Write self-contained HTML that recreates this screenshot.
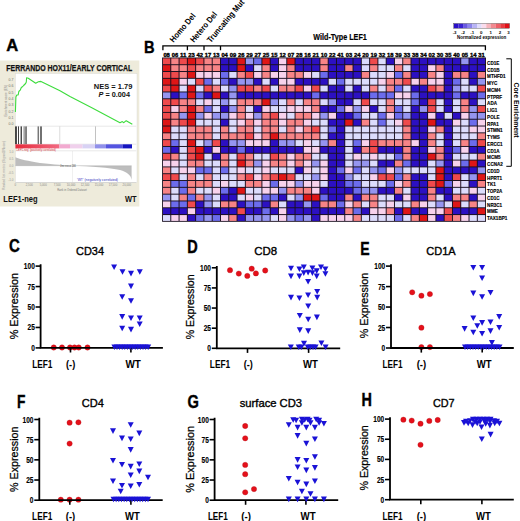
<!DOCTYPE html>
<html><head><meta charset="utf-8"><title>Figure</title>
<style>
html,body{margin:0;padding:0;background:#fff;width:520px;height:521px;overflow:hidden}
svg{display:block}
text{font-family:"Liberation Sans",sans-serif}
</style></head><body>
<svg width="520" height="521" viewBox="0 0 520 521">
<rect width="520" height="521" fill="#fff"/>
<rect x="162.10" y="57.50" width="323.90" height="164.30" fill="#1a1020"/>
<rect x="162.98" y="58.38" width="7.32" height="5.85" fill="#ef4a4c"/>
<rect x="171.26" y="58.38" width="7.32" height="5.85" fill="#f78486"/>
<rect x="179.55" y="58.38" width="7.32" height="5.85" fill="#ef4a4c"/>
<rect x="187.83" y="58.38" width="7.32" height="5.85" fill="#de1616"/>
<rect x="196.12" y="58.38" width="7.32" height="5.85" fill="#ef4a4c"/>
<rect x="204.40" y="58.38" width="7.32" height="5.85" fill="#f78486"/>
<rect x="212.69" y="58.38" width="7.32" height="5.85" fill="#f78486"/>
<rect x="220.97" y="58.38" width="7.32" height="5.85" fill="#2c10c2"/>
<rect x="229.26" y="58.38" width="7.32" height="5.85" fill="#2c10c2"/>
<rect x="237.54" y="58.38" width="7.32" height="5.85" fill="#de1616"/>
<rect x="245.83" y="58.38" width="7.32" height="5.85" fill="#9595f0"/>
<rect x="254.11" y="58.38" width="7.32" height="5.85" fill="#6c6cec"/>
<rect x="262.40" y="58.38" width="7.32" height="5.85" fill="#de1616"/>
<rect x="270.68" y="58.38" width="7.32" height="5.85" fill="#2c10c2"/>
<rect x="278.96" y="58.38" width="7.32" height="5.85" fill="#f7d2ec"/>
<rect x="287.25" y="58.38" width="7.32" height="5.85" fill="#de1616"/>
<rect x="295.53" y="58.38" width="7.32" height="5.85" fill="#2c10c2"/>
<rect x="303.82" y="58.38" width="7.32" height="5.85" fill="#2c10c2"/>
<rect x="312.10" y="58.38" width="7.32" height="5.85" fill="#2c10c2"/>
<rect x="320.39" y="58.38" width="7.32" height="5.85" fill="#f78486"/>
<rect x="328.67" y="58.38" width="7.32" height="5.85" fill="#2c10c2"/>
<rect x="336.96" y="58.38" width="7.32" height="5.85" fill="#2c10c2"/>
<rect x="345.24" y="58.38" width="7.32" height="5.85" fill="#2c10c2"/>
<rect x="353.53" y="58.38" width="7.32" height="5.85" fill="#2c10c2"/>
<rect x="361.81" y="58.38" width="7.32" height="5.85" fill="#dcdcfc"/>
<rect x="370.10" y="58.38" width="7.32" height="5.85" fill="#ef4a4c"/>
<rect x="378.38" y="58.38" width="7.32" height="5.85" fill="#dcdcfc"/>
<rect x="386.66" y="58.38" width="7.32" height="5.85" fill="#2c10c2"/>
<rect x="394.95" y="58.38" width="7.32" height="5.85" fill="#f7d2ec"/>
<rect x="403.23" y="58.38" width="7.32" height="5.85" fill="#f78486"/>
<rect x="411.52" y="58.38" width="7.32" height="5.85" fill="#2c10c2"/>
<rect x="419.80" y="58.38" width="7.32" height="5.85" fill="#2c10c2"/>
<rect x="428.09" y="58.38" width="7.32" height="5.85" fill="#2c10c2"/>
<rect x="436.37" y="58.38" width="7.32" height="5.85" fill="#2c10c2"/>
<rect x="444.66" y="58.38" width="7.32" height="5.85" fill="#2c10c2"/>
<rect x="452.94" y="58.38" width="7.32" height="5.85" fill="#2c10c2"/>
<rect x="461.23" y="58.38" width="7.32" height="5.85" fill="#9595f0"/>
<rect x="469.51" y="58.38" width="7.32" height="5.85" fill="#2c10c2"/>
<rect x="477.80" y="58.38" width="7.32" height="5.85" fill="#2c10c2"/>
<rect x="162.98" y="65.19" width="7.32" height="5.85" fill="#de1616"/>
<rect x="171.26" y="65.19" width="7.32" height="5.85" fill="#f78486"/>
<rect x="179.55" y="65.19" width="7.32" height="5.85" fill="#f78486"/>
<rect x="187.83" y="65.19" width="7.32" height="5.85" fill="#ef4a4c"/>
<rect x="196.12" y="65.19" width="7.32" height="5.85" fill="#f78486"/>
<rect x="204.40" y="65.19" width="7.32" height="5.85" fill="#f78486"/>
<rect x="212.69" y="65.19" width="7.32" height="5.85" fill="#f78486"/>
<rect x="220.97" y="65.19" width="7.32" height="5.85" fill="#2c10c2"/>
<rect x="229.26" y="65.19" width="7.32" height="5.85" fill="#2c10c2"/>
<rect x="237.54" y="65.19" width="7.32" height="5.85" fill="#de1616"/>
<rect x="245.83" y="65.19" width="7.32" height="5.85" fill="#2c10c2"/>
<rect x="254.11" y="65.19" width="7.32" height="5.85" fill="#dcdcfc"/>
<rect x="262.40" y="65.19" width="7.32" height="5.85" fill="#f78486"/>
<rect x="270.68" y="65.19" width="7.32" height="5.85" fill="#2c10c2"/>
<rect x="278.96" y="65.19" width="7.32" height="5.85" fill="#f7d2ec"/>
<rect x="287.25" y="65.19" width="7.32" height="5.85" fill="#f78486"/>
<rect x="295.53" y="65.19" width="7.32" height="5.85" fill="#2c10c2"/>
<rect x="303.82" y="65.19" width="7.32" height="5.85" fill="#2c10c2"/>
<rect x="312.10" y="65.19" width="7.32" height="5.85" fill="#2c10c2"/>
<rect x="320.39" y="65.19" width="7.32" height="5.85" fill="#f78486"/>
<rect x="328.67" y="65.19" width="7.32" height="5.85" fill="#2c10c2"/>
<rect x="336.96" y="65.19" width="7.32" height="5.85" fill="#2c10c2"/>
<rect x="345.24" y="65.19" width="7.32" height="5.85" fill="#f78486"/>
<rect x="353.53" y="65.19" width="7.32" height="5.85" fill="#2c10c2"/>
<rect x="361.81" y="65.19" width="7.32" height="5.85" fill="#dcdcfc"/>
<rect x="370.10" y="65.19" width="7.32" height="5.85" fill="#f78486"/>
<rect x="378.38" y="65.19" width="7.32" height="5.85" fill="#dcdcfc"/>
<rect x="386.66" y="65.19" width="7.32" height="5.85" fill="#dcdcfc"/>
<rect x="394.95" y="65.19" width="7.32" height="5.85" fill="#f78486"/>
<rect x="403.23" y="65.19" width="7.32" height="5.85" fill="#dcdcfc"/>
<rect x="411.52" y="65.19" width="7.32" height="5.85" fill="#2c10c2"/>
<rect x="419.80" y="65.19" width="7.32" height="5.85" fill="#2c10c2"/>
<rect x="428.09" y="65.19" width="7.32" height="5.85" fill="#f7d2ec"/>
<rect x="436.37" y="65.19" width="7.32" height="5.85" fill="#f78486"/>
<rect x="444.66" y="65.19" width="7.32" height="5.85" fill="#2c10c2"/>
<rect x="452.94" y="65.19" width="7.32" height="5.85" fill="#2c10c2"/>
<rect x="461.23" y="65.19" width="7.32" height="5.85" fill="#2c10c2"/>
<rect x="469.51" y="65.19" width="7.32" height="5.85" fill="#2c10c2"/>
<rect x="477.80" y="65.19" width="7.32" height="5.85" fill="#2c10c2"/>
<rect x="162.98" y="72.01" width="7.32" height="5.85" fill="#ef4a4c"/>
<rect x="171.26" y="72.01" width="7.32" height="5.85" fill="#ef4a4c"/>
<rect x="179.55" y="72.01" width="7.32" height="5.85" fill="#f78486"/>
<rect x="187.83" y="72.01" width="7.32" height="5.85" fill="#de1616"/>
<rect x="196.12" y="72.01" width="7.32" height="5.85" fill="#f7d2ec"/>
<rect x="204.40" y="72.01" width="7.32" height="5.85" fill="#f7d2ec"/>
<rect x="212.69" y="72.01" width="7.32" height="5.85" fill="#f7d2ec"/>
<rect x="220.97" y="72.01" width="7.32" height="5.85" fill="#6c6cec"/>
<rect x="229.26" y="72.01" width="7.32" height="5.85" fill="#dcdcfc"/>
<rect x="237.54" y="72.01" width="7.32" height="5.85" fill="#f78486"/>
<rect x="245.83" y="72.01" width="7.32" height="5.85" fill="#ef4a4c"/>
<rect x="254.11" y="72.01" width="7.32" height="5.85" fill="#f7d2ec"/>
<rect x="262.40" y="72.01" width="7.32" height="5.85" fill="#f78486"/>
<rect x="270.68" y="72.01" width="7.32" height="5.85" fill="#f7d2ec"/>
<rect x="278.96" y="72.01" width="7.32" height="5.85" fill="#f7d2ec"/>
<rect x="287.25" y="72.01" width="7.32" height="5.85" fill="#f78486"/>
<rect x="295.53" y="72.01" width="7.32" height="5.85" fill="#f78486"/>
<rect x="303.82" y="72.01" width="7.32" height="5.85" fill="#f7d2ec"/>
<rect x="312.10" y="72.01" width="7.32" height="5.85" fill="#dcdcfc"/>
<rect x="320.39" y="72.01" width="7.32" height="5.85" fill="#6c6cec"/>
<rect x="328.67" y="72.01" width="7.32" height="5.85" fill="#2c10c2"/>
<rect x="336.96" y="72.01" width="7.32" height="5.85" fill="#2c10c2"/>
<rect x="345.24" y="72.01" width="7.32" height="5.85" fill="#2c10c2"/>
<rect x="353.53" y="72.01" width="7.32" height="5.85" fill="#2c10c2"/>
<rect x="361.81" y="72.01" width="7.32" height="5.85" fill="#f78486"/>
<rect x="370.10" y="72.01" width="7.32" height="5.85" fill="#dcdcfc"/>
<rect x="378.38" y="72.01" width="7.32" height="5.85" fill="#dcdcfc"/>
<rect x="386.66" y="72.01" width="7.32" height="5.85" fill="#f7d2ec"/>
<rect x="394.95" y="72.01" width="7.32" height="5.85" fill="#6c6cec"/>
<rect x="403.23" y="72.01" width="7.32" height="5.85" fill="#f78486"/>
<rect x="411.52" y="72.01" width="7.32" height="5.85" fill="#2c10c2"/>
<rect x="419.80" y="72.01" width="7.32" height="5.85" fill="#2c10c2"/>
<rect x="428.09" y="72.01" width="7.32" height="5.85" fill="#f78486"/>
<rect x="436.37" y="72.01" width="7.32" height="5.85" fill="#f7d2ec"/>
<rect x="444.66" y="72.01" width="7.32" height="5.85" fill="#2c10c2"/>
<rect x="452.94" y="72.01" width="7.32" height="5.85" fill="#f78486"/>
<rect x="461.23" y="72.01" width="7.32" height="5.85" fill="#f78486"/>
<rect x="469.51" y="72.01" width="7.32" height="5.85" fill="#2c10c2"/>
<rect x="477.80" y="72.01" width="7.32" height="5.85" fill="#f78486"/>
<rect x="162.98" y="78.82" width="7.32" height="5.85" fill="#de1616"/>
<rect x="171.26" y="78.82" width="7.32" height="5.85" fill="#de1616"/>
<rect x="179.55" y="78.82" width="7.32" height="5.85" fill="#f7d2ec"/>
<rect x="187.83" y="78.82" width="7.32" height="5.85" fill="#dcdcfc"/>
<rect x="196.12" y="78.82" width="7.32" height="5.85" fill="#ef4a4c"/>
<rect x="204.40" y="78.82" width="7.32" height="5.85" fill="#6c6cec"/>
<rect x="212.69" y="78.82" width="7.32" height="5.85" fill="#dcdcfc"/>
<rect x="220.97" y="78.82" width="7.32" height="5.85" fill="#6c6cec"/>
<rect x="229.26" y="78.82" width="7.32" height="5.85" fill="#2c10c2"/>
<rect x="237.54" y="78.82" width="7.32" height="5.85" fill="#9595f0"/>
<rect x="245.83" y="78.82" width="7.32" height="5.85" fill="#9595f0"/>
<rect x="254.11" y="78.82" width="7.32" height="5.85" fill="#2c10c2"/>
<rect x="262.40" y="78.82" width="7.32" height="5.85" fill="#dcdcfc"/>
<rect x="270.68" y="78.82" width="7.32" height="5.85" fill="#2c10c2"/>
<rect x="278.96" y="78.82" width="7.32" height="5.85" fill="#f7d2ec"/>
<rect x="287.25" y="78.82" width="7.32" height="5.85" fill="#f7d2ec"/>
<rect x="295.53" y="78.82" width="7.32" height="5.85" fill="#2c10c2"/>
<rect x="303.82" y="78.82" width="7.32" height="5.85" fill="#2c10c2"/>
<rect x="312.10" y="78.82" width="7.32" height="5.85" fill="#2c10c2"/>
<rect x="320.39" y="78.82" width="7.32" height="5.85" fill="#2c10c2"/>
<rect x="328.67" y="78.82" width="7.32" height="5.85" fill="#dcdcfc"/>
<rect x="336.96" y="78.82" width="7.32" height="5.85" fill="#6c6cec"/>
<rect x="345.24" y="78.82" width="7.32" height="5.85" fill="#dcdcfc"/>
<rect x="353.53" y="78.82" width="7.32" height="5.85" fill="#dcdcfc"/>
<rect x="361.81" y="78.82" width="7.32" height="5.85" fill="#dcdcfc"/>
<rect x="370.10" y="78.82" width="7.32" height="5.85" fill="#dcdcfc"/>
<rect x="378.38" y="78.82" width="7.32" height="5.85" fill="#f7d2ec"/>
<rect x="386.66" y="78.82" width="7.32" height="5.85" fill="#f78486"/>
<rect x="394.95" y="78.82" width="7.32" height="5.85" fill="#f78486"/>
<rect x="403.23" y="78.82" width="7.32" height="5.85" fill="#ef4a4c"/>
<rect x="411.52" y="78.82" width="7.32" height="5.85" fill="#f7d2ec"/>
<rect x="419.80" y="78.82" width="7.32" height="5.85" fill="#f78486"/>
<rect x="428.09" y="78.82" width="7.32" height="5.85" fill="#f7d2ec"/>
<rect x="436.37" y="78.82" width="7.32" height="5.85" fill="#f7d2ec"/>
<rect x="444.66" y="78.82" width="7.32" height="5.85" fill="#2c10c2"/>
<rect x="452.94" y="78.82" width="7.32" height="5.85" fill="#6c6cec"/>
<rect x="461.23" y="78.82" width="7.32" height="5.85" fill="#dcdcfc"/>
<rect x="469.51" y="78.82" width="7.32" height="5.85" fill="#2c10c2"/>
<rect x="477.80" y="78.82" width="7.32" height="5.85" fill="#9595f0"/>
<rect x="162.98" y="85.63" width="7.32" height="5.85" fill="#ef4a4c"/>
<rect x="171.26" y="85.63" width="7.32" height="5.85" fill="#de1616"/>
<rect x="179.55" y="85.63" width="7.32" height="5.85" fill="#dcdcfc"/>
<rect x="187.83" y="85.63" width="7.32" height="5.85" fill="#de1616"/>
<rect x="196.12" y="85.63" width="7.32" height="5.85" fill="#dcdcfc"/>
<rect x="204.40" y="85.63" width="7.32" height="5.85" fill="#ef4a4c"/>
<rect x="212.69" y="85.63" width="7.32" height="5.85" fill="#f78486"/>
<rect x="220.97" y="85.63" width="7.32" height="5.85" fill="#dcdcfc"/>
<rect x="229.26" y="85.63" width="7.32" height="5.85" fill="#9595f0"/>
<rect x="237.54" y="85.63" width="7.32" height="5.85" fill="#ef4a4c"/>
<rect x="245.83" y="85.63" width="7.32" height="5.85" fill="#ef4a4c"/>
<rect x="254.11" y="85.63" width="7.32" height="5.85" fill="#f78486"/>
<rect x="262.40" y="85.63" width="7.32" height="5.85" fill="#ef4a4c"/>
<rect x="270.68" y="85.63" width="7.32" height="5.85" fill="#dcdcfc"/>
<rect x="278.96" y="85.63" width="7.32" height="5.85" fill="#f78486"/>
<rect x="287.25" y="85.63" width="7.32" height="5.85" fill="#f78486"/>
<rect x="295.53" y="85.63" width="7.32" height="5.85" fill="#ef4a4c"/>
<rect x="303.82" y="85.63" width="7.32" height="5.85" fill="#f7d2ec"/>
<rect x="312.10" y="85.63" width="7.32" height="5.85" fill="#ef4a4c"/>
<rect x="320.39" y="85.63" width="7.32" height="5.85" fill="#dcdcfc"/>
<rect x="328.67" y="85.63" width="7.32" height="5.85" fill="#2c10c2"/>
<rect x="336.96" y="85.63" width="7.32" height="5.85" fill="#2c10c2"/>
<rect x="345.24" y="85.63" width="7.32" height="5.85" fill="#dcdcfc"/>
<rect x="353.53" y="85.63" width="7.32" height="5.85" fill="#2c10c2"/>
<rect x="361.81" y="85.63" width="7.32" height="5.85" fill="#dcdcfc"/>
<rect x="370.10" y="85.63" width="7.32" height="5.85" fill="#f78486"/>
<rect x="378.38" y="85.63" width="7.32" height="5.85" fill="#dcdcfc"/>
<rect x="386.66" y="85.63" width="7.32" height="5.85" fill="#f78486"/>
<rect x="394.95" y="85.63" width="7.32" height="5.85" fill="#6c6cec"/>
<rect x="403.23" y="85.63" width="7.32" height="5.85" fill="#dcdcfc"/>
<rect x="411.52" y="85.63" width="7.32" height="5.85" fill="#2c10c2"/>
<rect x="419.80" y="85.63" width="7.32" height="5.85" fill="#2c10c2"/>
<rect x="428.09" y="85.63" width="7.32" height="5.85" fill="#ef4a4c"/>
<rect x="436.37" y="85.63" width="7.32" height="5.85" fill="#f78486"/>
<rect x="444.66" y="85.63" width="7.32" height="5.85" fill="#2c10c2"/>
<rect x="452.94" y="85.63" width="7.32" height="5.85" fill="#9595f0"/>
<rect x="461.23" y="85.63" width="7.32" height="5.85" fill="#dcdcfc"/>
<rect x="469.51" y="85.63" width="7.32" height="5.85" fill="#dcdcfc"/>
<rect x="477.80" y="85.63" width="7.32" height="5.85" fill="#ef4a4c"/>
<rect x="162.98" y="92.44" width="7.32" height="5.85" fill="#9595f0"/>
<rect x="171.26" y="92.44" width="7.32" height="5.85" fill="#2c10c2"/>
<rect x="179.55" y="92.44" width="7.32" height="5.85" fill="#6c6cec"/>
<rect x="187.83" y="92.44" width="7.32" height="5.85" fill="#de1616"/>
<rect x="196.12" y="92.44" width="7.32" height="5.85" fill="#6c6cec"/>
<rect x="204.40" y="92.44" width="7.32" height="5.85" fill="#2c10c2"/>
<rect x="212.69" y="92.44" width="7.32" height="5.85" fill="#de1616"/>
<rect x="220.97" y="92.44" width="7.32" height="5.85" fill="#2c10c2"/>
<rect x="229.26" y="92.44" width="7.32" height="5.85" fill="#9595f0"/>
<rect x="237.54" y="92.44" width="7.32" height="5.85" fill="#2c10c2"/>
<rect x="245.83" y="92.44" width="7.32" height="5.85" fill="#2c10c2"/>
<rect x="254.11" y="92.44" width="7.32" height="5.85" fill="#2c10c2"/>
<rect x="262.40" y="92.44" width="7.32" height="5.85" fill="#2c10c2"/>
<rect x="270.68" y="92.44" width="7.32" height="5.85" fill="#2c10c2"/>
<rect x="278.96" y="92.44" width="7.32" height="5.85" fill="#2c10c2"/>
<rect x="287.25" y="92.44" width="7.32" height="5.85" fill="#2c10c2"/>
<rect x="295.53" y="92.44" width="7.32" height="5.85" fill="#2c10c2"/>
<rect x="303.82" y="92.44" width="7.32" height="5.85" fill="#2c10c2"/>
<rect x="312.10" y="92.44" width="7.32" height="5.85" fill="#6c6cec"/>
<rect x="320.39" y="92.44" width="7.32" height="5.85" fill="#2c10c2"/>
<rect x="328.67" y="92.44" width="7.32" height="5.85" fill="#2c10c2"/>
<rect x="336.96" y="92.44" width="7.32" height="5.85" fill="#2c10c2"/>
<rect x="345.24" y="92.44" width="7.32" height="5.85" fill="#2c10c2"/>
<rect x="353.53" y="92.44" width="7.32" height="5.85" fill="#2c10c2"/>
<rect x="361.81" y="92.44" width="7.32" height="5.85" fill="#2c10c2"/>
<rect x="370.10" y="92.44" width="7.32" height="5.85" fill="#6c6cec"/>
<rect x="378.38" y="92.44" width="7.32" height="5.85" fill="#6c6cec"/>
<rect x="386.66" y="92.44" width="7.32" height="5.85" fill="#6c6cec"/>
<rect x="394.95" y="92.44" width="7.32" height="5.85" fill="#f7d2ec"/>
<rect x="403.23" y="92.44" width="7.32" height="5.85" fill="#f7d2ec"/>
<rect x="411.52" y="92.44" width="7.32" height="5.85" fill="#6c6cec"/>
<rect x="419.80" y="92.44" width="7.32" height="5.85" fill="#2c10c2"/>
<rect x="428.09" y="92.44" width="7.32" height="5.85" fill="#2c10c2"/>
<rect x="436.37" y="92.44" width="7.32" height="5.85" fill="#2c10c2"/>
<rect x="444.66" y="92.44" width="7.32" height="5.85" fill="#2c10c2"/>
<rect x="452.94" y="92.44" width="7.32" height="5.85" fill="#6c6cec"/>
<rect x="461.23" y="92.44" width="7.32" height="5.85" fill="#2c10c2"/>
<rect x="469.51" y="92.44" width="7.32" height="5.85" fill="#2c10c2"/>
<rect x="477.80" y="92.44" width="7.32" height="5.85" fill="#6c6cec"/>
<rect x="162.98" y="99.26" width="7.32" height="5.85" fill="#ef4a4c"/>
<rect x="171.26" y="99.26" width="7.32" height="5.85" fill="#ef4a4c"/>
<rect x="179.55" y="99.26" width="7.32" height="5.85" fill="#f78486"/>
<rect x="187.83" y="99.26" width="7.32" height="5.85" fill="#f78486"/>
<rect x="196.12" y="99.26" width="7.32" height="5.85" fill="#dcdcfc"/>
<rect x="204.40" y="99.26" width="7.32" height="5.85" fill="#f7d2ec"/>
<rect x="212.69" y="99.26" width="7.32" height="5.85" fill="#dcdcfc"/>
<rect x="220.97" y="99.26" width="7.32" height="5.85" fill="#9595f0"/>
<rect x="229.26" y="99.26" width="7.32" height="5.85" fill="#dcdcfc"/>
<rect x="237.54" y="99.26" width="7.32" height="5.85" fill="#f78486"/>
<rect x="245.83" y="99.26" width="7.32" height="5.85" fill="#f78486"/>
<rect x="254.11" y="99.26" width="7.32" height="5.85" fill="#f78486"/>
<rect x="262.40" y="99.26" width="7.32" height="5.85" fill="#de1616"/>
<rect x="270.68" y="99.26" width="7.32" height="5.85" fill="#9595f0"/>
<rect x="278.96" y="99.26" width="7.32" height="5.85" fill="#dcdcfc"/>
<rect x="287.25" y="99.26" width="7.32" height="5.85" fill="#f78486"/>
<rect x="295.53" y="99.26" width="7.32" height="5.85" fill="#dcdcfc"/>
<rect x="303.82" y="99.26" width="7.32" height="5.85" fill="#f78486"/>
<rect x="312.10" y="99.26" width="7.32" height="5.85" fill="#f78486"/>
<rect x="320.39" y="99.26" width="7.32" height="5.85" fill="#dcdcfc"/>
<rect x="328.67" y="99.26" width="7.32" height="5.85" fill="#9595f0"/>
<rect x="336.96" y="99.26" width="7.32" height="5.85" fill="#2c10c2"/>
<rect x="345.24" y="99.26" width="7.32" height="5.85" fill="#2c10c2"/>
<rect x="353.53" y="99.26" width="7.32" height="5.85" fill="#dcdcfc"/>
<rect x="361.81" y="99.26" width="7.32" height="5.85" fill="#ef4a4c"/>
<rect x="370.10" y="99.26" width="7.32" height="5.85" fill="#dcdcfc"/>
<rect x="378.38" y="99.26" width="7.32" height="5.85" fill="#dcdcfc"/>
<rect x="386.66" y="99.26" width="7.32" height="5.85" fill="#f78486"/>
<rect x="394.95" y="99.26" width="7.32" height="5.85" fill="#dcdcfc"/>
<rect x="403.23" y="99.26" width="7.32" height="5.85" fill="#dcdcfc"/>
<rect x="411.52" y="99.26" width="7.32" height="5.85" fill="#6c6cec"/>
<rect x="419.80" y="99.26" width="7.32" height="5.85" fill="#2c10c2"/>
<rect x="428.09" y="99.26" width="7.32" height="5.85" fill="#ef4a4c"/>
<rect x="436.37" y="99.26" width="7.32" height="5.85" fill="#dcdcfc"/>
<rect x="444.66" y="99.26" width="7.32" height="5.85" fill="#2c10c2"/>
<rect x="452.94" y="99.26" width="7.32" height="5.85" fill="#dcdcfc"/>
<rect x="461.23" y="99.26" width="7.32" height="5.85" fill="#f78486"/>
<rect x="469.51" y="99.26" width="7.32" height="5.85" fill="#2c10c2"/>
<rect x="477.80" y="99.26" width="7.32" height="5.85" fill="#dcdcfc"/>
<rect x="162.98" y="106.07" width="7.32" height="5.85" fill="#ef4a4c"/>
<rect x="171.26" y="106.07" width="7.32" height="5.85" fill="#f7d2ec"/>
<rect x="179.55" y="106.07" width="7.32" height="5.85" fill="#f78486"/>
<rect x="187.83" y="106.07" width="7.32" height="5.85" fill="#de1616"/>
<rect x="196.12" y="106.07" width="7.32" height="5.85" fill="#f78486"/>
<rect x="204.40" y="106.07" width="7.32" height="5.85" fill="#6c6cec"/>
<rect x="212.69" y="106.07" width="7.32" height="5.85" fill="#dcdcfc"/>
<rect x="220.97" y="106.07" width="7.32" height="5.85" fill="#2c10c2"/>
<rect x="229.26" y="106.07" width="7.32" height="5.85" fill="#9595f0"/>
<rect x="237.54" y="106.07" width="7.32" height="5.85" fill="#f78486"/>
<rect x="245.83" y="106.07" width="7.32" height="5.85" fill="#dcdcfc"/>
<rect x="254.11" y="106.07" width="7.32" height="5.85" fill="#2c10c2"/>
<rect x="262.40" y="106.07" width="7.32" height="5.85" fill="#f7d2ec"/>
<rect x="270.68" y="106.07" width="7.32" height="5.85" fill="#dcdcfc"/>
<rect x="278.96" y="106.07" width="7.32" height="5.85" fill="#dcdcfc"/>
<rect x="287.25" y="106.07" width="7.32" height="5.85" fill="#f7d2ec"/>
<rect x="295.53" y="106.07" width="7.32" height="5.85" fill="#f7d2ec"/>
<rect x="303.82" y="106.07" width="7.32" height="5.85" fill="#f7d2ec"/>
<rect x="312.10" y="106.07" width="7.32" height="5.85" fill="#f78486"/>
<rect x="320.39" y="106.07" width="7.32" height="5.85" fill="#2c10c2"/>
<rect x="328.67" y="106.07" width="7.32" height="5.85" fill="#2c10c2"/>
<rect x="336.96" y="106.07" width="7.32" height="5.85" fill="#6c6cec"/>
<rect x="345.24" y="106.07" width="7.32" height="5.85" fill="#f7d2ec"/>
<rect x="353.53" y="106.07" width="7.32" height="5.85" fill="#9595f0"/>
<rect x="361.81" y="106.07" width="7.32" height="5.85" fill="#f7d2ec"/>
<rect x="370.10" y="106.07" width="7.32" height="5.85" fill="#2c10c2"/>
<rect x="378.38" y="106.07" width="7.32" height="5.85" fill="#dcdcfc"/>
<rect x="386.66" y="106.07" width="7.32" height="5.85" fill="#f78486"/>
<rect x="394.95" y="106.07" width="7.32" height="5.85" fill="#6c6cec"/>
<rect x="403.23" y="106.07" width="7.32" height="5.85" fill="#dcdcfc"/>
<rect x="411.52" y="106.07" width="7.32" height="5.85" fill="#2c10c2"/>
<rect x="419.80" y="106.07" width="7.32" height="5.85" fill="#9595f0"/>
<rect x="428.09" y="106.07" width="7.32" height="5.85" fill="#ef4a4c"/>
<rect x="436.37" y="106.07" width="7.32" height="5.85" fill="#dcdcfc"/>
<rect x="444.66" y="106.07" width="7.32" height="5.85" fill="#2c10c2"/>
<rect x="452.94" y="106.07" width="7.32" height="5.85" fill="#dcdcfc"/>
<rect x="461.23" y="106.07" width="7.32" height="5.85" fill="#f78486"/>
<rect x="469.51" y="106.07" width="7.32" height="5.85" fill="#9595f0"/>
<rect x="477.80" y="106.07" width="7.32" height="5.85" fill="#ef4a4c"/>
<rect x="162.98" y="112.88" width="7.32" height="5.85" fill="#ef4a4c"/>
<rect x="171.26" y="112.88" width="7.32" height="5.85" fill="#f78486"/>
<rect x="179.55" y="112.88" width="7.32" height="5.85" fill="#9595f0"/>
<rect x="187.83" y="112.88" width="7.32" height="5.85" fill="#de1616"/>
<rect x="196.12" y="112.88" width="7.32" height="5.85" fill="#9595f0"/>
<rect x="204.40" y="112.88" width="7.32" height="5.85" fill="#f7d2ec"/>
<rect x="212.69" y="112.88" width="7.32" height="5.85" fill="#9595f0"/>
<rect x="220.97" y="112.88" width="7.32" height="5.85" fill="#9595f0"/>
<rect x="229.26" y="112.88" width="7.32" height="5.85" fill="#f7d2ec"/>
<rect x="237.54" y="112.88" width="7.32" height="5.85" fill="#f78486"/>
<rect x="245.83" y="112.88" width="7.32" height="5.85" fill="#f7d2ec"/>
<rect x="254.11" y="112.88" width="7.32" height="5.85" fill="#9595f0"/>
<rect x="262.40" y="112.88" width="7.32" height="5.85" fill="#f78486"/>
<rect x="270.68" y="112.88" width="7.32" height="5.85" fill="#ef4a4c"/>
<rect x="278.96" y="112.88" width="7.32" height="5.85" fill="#f7d2ec"/>
<rect x="287.25" y="112.88" width="7.32" height="5.85" fill="#dcdcfc"/>
<rect x="295.53" y="112.88" width="7.32" height="5.85" fill="#f78486"/>
<rect x="303.82" y="112.88" width="7.32" height="5.85" fill="#f78486"/>
<rect x="312.10" y="112.88" width="7.32" height="5.85" fill="#f7d2ec"/>
<rect x="320.39" y="112.88" width="7.32" height="5.85" fill="#9595f0"/>
<rect x="328.67" y="112.88" width="7.32" height="5.85" fill="#f7d2ec"/>
<rect x="336.96" y="112.88" width="7.32" height="5.85" fill="#2c10c2"/>
<rect x="345.24" y="112.88" width="7.32" height="5.85" fill="#2c10c2"/>
<rect x="353.53" y="112.88" width="7.32" height="5.85" fill="#6c6cec"/>
<rect x="361.81" y="112.88" width="7.32" height="5.85" fill="#dcdcfc"/>
<rect x="370.10" y="112.88" width="7.32" height="5.85" fill="#dcdcfc"/>
<rect x="378.38" y="112.88" width="7.32" height="5.85" fill="#6c6cec"/>
<rect x="386.66" y="112.88" width="7.32" height="5.85" fill="#f7d2ec"/>
<rect x="394.95" y="112.88" width="7.32" height="5.85" fill="#6c6cec"/>
<rect x="403.23" y="112.88" width="7.32" height="5.85" fill="#9595f0"/>
<rect x="411.52" y="112.88" width="7.32" height="5.85" fill="#2c10c2"/>
<rect x="419.80" y="112.88" width="7.32" height="5.85" fill="#2c10c2"/>
<rect x="428.09" y="112.88" width="7.32" height="5.85" fill="#f7d2ec"/>
<rect x="436.37" y="112.88" width="7.32" height="5.85" fill="#2c10c2"/>
<rect x="444.66" y="112.88" width="7.32" height="5.85" fill="#dcdcfc"/>
<rect x="452.94" y="112.88" width="7.32" height="5.85" fill="#2c10c2"/>
<rect x="461.23" y="112.88" width="7.32" height="5.85" fill="#f7d2ec"/>
<rect x="469.51" y="112.88" width="7.32" height="5.85" fill="#9595f0"/>
<rect x="477.80" y="112.88" width="7.32" height="5.85" fill="#9595f0"/>
<rect x="162.98" y="119.69" width="7.32" height="5.85" fill="#de1616"/>
<rect x="171.26" y="119.69" width="7.32" height="5.85" fill="#f78486"/>
<rect x="179.55" y="119.69" width="7.32" height="5.85" fill="#ef4a4c"/>
<rect x="187.83" y="119.69" width="7.32" height="5.85" fill="#de1616"/>
<rect x="196.12" y="119.69" width="7.32" height="5.85" fill="#dcdcfc"/>
<rect x="204.40" y="119.69" width="7.32" height="5.85" fill="#dcdcfc"/>
<rect x="212.69" y="119.69" width="7.32" height="5.85" fill="#dcdcfc"/>
<rect x="220.97" y="119.69" width="7.32" height="5.85" fill="#2c10c2"/>
<rect x="229.26" y="119.69" width="7.32" height="5.85" fill="#dcdcfc"/>
<rect x="237.54" y="119.69" width="7.32" height="5.85" fill="#f7d2ec"/>
<rect x="245.83" y="119.69" width="7.32" height="5.85" fill="#f78486"/>
<rect x="254.11" y="119.69" width="7.32" height="5.85" fill="#f7d2ec"/>
<rect x="262.40" y="119.69" width="7.32" height="5.85" fill="#f78486"/>
<rect x="270.68" y="119.69" width="7.32" height="5.85" fill="#f78486"/>
<rect x="278.96" y="119.69" width="7.32" height="5.85" fill="#f7d2ec"/>
<rect x="287.25" y="119.69" width="7.32" height="5.85" fill="#f78486"/>
<rect x="295.53" y="119.69" width="7.32" height="5.85" fill="#f78486"/>
<rect x="303.82" y="119.69" width="7.32" height="5.85" fill="#f7d2ec"/>
<rect x="312.10" y="119.69" width="7.32" height="5.85" fill="#dcdcfc"/>
<rect x="320.39" y="119.69" width="7.32" height="5.85" fill="#dcdcfc"/>
<rect x="328.67" y="119.69" width="7.32" height="5.85" fill="#2c10c2"/>
<rect x="336.96" y="119.69" width="7.32" height="5.85" fill="#2c10c2"/>
<rect x="345.24" y="119.69" width="7.32" height="5.85" fill="#de1616"/>
<rect x="353.53" y="119.69" width="7.32" height="5.85" fill="#2c10c2"/>
<rect x="361.81" y="119.69" width="7.32" height="5.85" fill="#f78486"/>
<rect x="370.10" y="119.69" width="7.32" height="5.85" fill="#dcdcfc"/>
<rect x="378.38" y="119.69" width="7.32" height="5.85" fill="#6c6cec"/>
<rect x="386.66" y="119.69" width="7.32" height="5.85" fill="#dcdcfc"/>
<rect x="394.95" y="119.69" width="7.32" height="5.85" fill="#f7d2ec"/>
<rect x="403.23" y="119.69" width="7.32" height="5.85" fill="#ef4a4c"/>
<rect x="411.52" y="119.69" width="7.32" height="5.85" fill="#2c10c2"/>
<rect x="419.80" y="119.69" width="7.32" height="5.85" fill="#2c10c2"/>
<rect x="428.09" y="119.69" width="7.32" height="5.85" fill="#de1616"/>
<rect x="436.37" y="119.69" width="7.32" height="5.85" fill="#2c10c2"/>
<rect x="444.66" y="119.69" width="7.32" height="5.85" fill="#2c10c2"/>
<rect x="452.94" y="119.69" width="7.32" height="5.85" fill="#f7d2ec"/>
<rect x="461.23" y="119.69" width="7.32" height="5.85" fill="#dcdcfc"/>
<rect x="469.51" y="119.69" width="7.32" height="5.85" fill="#6c6cec"/>
<rect x="477.80" y="119.69" width="7.32" height="5.85" fill="#f7d2ec"/>
<rect x="162.98" y="126.51" width="7.32" height="5.85" fill="#de1616"/>
<rect x="171.26" y="126.51" width="7.32" height="5.85" fill="#dcdcfc"/>
<rect x="179.55" y="126.51" width="7.32" height="5.85" fill="#dcdcfc"/>
<rect x="187.83" y="126.51" width="7.32" height="5.85" fill="#f78486"/>
<rect x="196.12" y="126.51" width="7.32" height="5.85" fill="#f78486"/>
<rect x="204.40" y="126.51" width="7.32" height="5.85" fill="#f78486"/>
<rect x="212.69" y="126.51" width="7.32" height="5.85" fill="#dcdcfc"/>
<rect x="220.97" y="126.51" width="7.32" height="5.85" fill="#f78486"/>
<rect x="229.26" y="126.51" width="7.32" height="5.85" fill="#dcdcfc"/>
<rect x="237.54" y="126.51" width="7.32" height="5.85" fill="#f78486"/>
<rect x="245.83" y="126.51" width="7.32" height="5.85" fill="#f78486"/>
<rect x="254.11" y="126.51" width="7.32" height="5.85" fill="#dcdcfc"/>
<rect x="262.40" y="126.51" width="7.32" height="5.85" fill="#f78486"/>
<rect x="270.68" y="126.51" width="7.32" height="5.85" fill="#f78486"/>
<rect x="278.96" y="126.51" width="7.32" height="5.85" fill="#dcdcfc"/>
<rect x="287.25" y="126.51" width="7.32" height="5.85" fill="#f78486"/>
<rect x="295.53" y="126.51" width="7.32" height="5.85" fill="#f7d2ec"/>
<rect x="303.82" y="126.51" width="7.32" height="5.85" fill="#f78486"/>
<rect x="312.10" y="126.51" width="7.32" height="5.85" fill="#ef4a4c"/>
<rect x="320.39" y="126.51" width="7.32" height="5.85" fill="#dcdcfc"/>
<rect x="328.67" y="126.51" width="7.32" height="5.85" fill="#6c6cec"/>
<rect x="336.96" y="126.51" width="7.32" height="5.85" fill="#2c10c2"/>
<rect x="345.24" y="126.51" width="7.32" height="5.85" fill="#dcdcfc"/>
<rect x="353.53" y="126.51" width="7.32" height="5.85" fill="#dcdcfc"/>
<rect x="361.81" y="126.51" width="7.32" height="5.85" fill="#dcdcfc"/>
<rect x="370.10" y="126.51" width="7.32" height="5.85" fill="#dcdcfc"/>
<rect x="378.38" y="126.51" width="7.32" height="5.85" fill="#dcdcfc"/>
<rect x="386.66" y="126.51" width="7.32" height="5.85" fill="#dcdcfc"/>
<rect x="394.95" y="126.51" width="7.32" height="5.85" fill="#dcdcfc"/>
<rect x="403.23" y="126.51" width="7.32" height="5.85" fill="#f78486"/>
<rect x="411.52" y="126.51" width="7.32" height="5.85" fill="#2c10c2"/>
<rect x="419.80" y="126.51" width="7.32" height="5.85" fill="#2c10c2"/>
<rect x="428.09" y="126.51" width="7.32" height="5.85" fill="#f7d2ec"/>
<rect x="436.37" y="126.51" width="7.32" height="5.85" fill="#f78486"/>
<rect x="444.66" y="126.51" width="7.32" height="5.85" fill="#2c10c2"/>
<rect x="452.94" y="126.51" width="7.32" height="5.85" fill="#dcdcfc"/>
<rect x="461.23" y="126.51" width="7.32" height="5.85" fill="#dcdcfc"/>
<rect x="469.51" y="126.51" width="7.32" height="5.85" fill="#f7d2ec"/>
<rect x="477.80" y="126.51" width="7.32" height="5.85" fill="#f7d2ec"/>
<rect x="162.98" y="133.32" width="7.32" height="5.85" fill="#f78486"/>
<rect x="171.26" y="133.32" width="7.32" height="5.85" fill="#dcdcfc"/>
<rect x="179.55" y="133.32" width="7.32" height="5.85" fill="#dcdcfc"/>
<rect x="187.83" y="133.32" width="7.32" height="5.85" fill="#f78486"/>
<rect x="196.12" y="133.32" width="7.32" height="5.85" fill="#f78486"/>
<rect x="204.40" y="133.32" width="7.32" height="5.85" fill="#f78486"/>
<rect x="212.69" y="133.32" width="7.32" height="5.85" fill="#dcdcfc"/>
<rect x="220.97" y="133.32" width="7.32" height="5.85" fill="#f78486"/>
<rect x="229.26" y="133.32" width="7.32" height="5.85" fill="#f78486"/>
<rect x="237.54" y="133.32" width="7.32" height="5.85" fill="#f78486"/>
<rect x="245.83" y="133.32" width="7.32" height="5.85" fill="#ef4a4c"/>
<rect x="254.11" y="133.32" width="7.32" height="5.85" fill="#f7d2ec"/>
<rect x="262.40" y="133.32" width="7.32" height="5.85" fill="#f78486"/>
<rect x="270.68" y="133.32" width="7.32" height="5.85" fill="#de1616"/>
<rect x="278.96" y="133.32" width="7.32" height="5.85" fill="#f78486"/>
<rect x="287.25" y="133.32" width="7.32" height="5.85" fill="#f78486"/>
<rect x="295.53" y="133.32" width="7.32" height="5.85" fill="#f78486"/>
<rect x="303.82" y="133.32" width="7.32" height="5.85" fill="#f78486"/>
<rect x="312.10" y="133.32" width="7.32" height="5.85" fill="#f78486"/>
<rect x="320.39" y="133.32" width="7.32" height="5.85" fill="#dcdcfc"/>
<rect x="328.67" y="133.32" width="7.32" height="5.85" fill="#2c10c2"/>
<rect x="336.96" y="133.32" width="7.32" height="5.85" fill="#2c10c2"/>
<rect x="345.24" y="133.32" width="7.32" height="5.85" fill="#dcdcfc"/>
<rect x="353.53" y="133.32" width="7.32" height="5.85" fill="#dcdcfc"/>
<rect x="361.81" y="133.32" width="7.32" height="5.85" fill="#dcdcfc"/>
<rect x="370.10" y="133.32" width="7.32" height="5.85" fill="#dcdcfc"/>
<rect x="378.38" y="133.32" width="7.32" height="5.85" fill="#dcdcfc"/>
<rect x="386.66" y="133.32" width="7.32" height="5.85" fill="#dcdcfc"/>
<rect x="394.95" y="133.32" width="7.32" height="5.85" fill="#dcdcfc"/>
<rect x="403.23" y="133.32" width="7.32" height="5.85" fill="#f78486"/>
<rect x="411.52" y="133.32" width="7.32" height="5.85" fill="#2c10c2"/>
<rect x="419.80" y="133.32" width="7.32" height="5.85" fill="#2c10c2"/>
<rect x="428.09" y="133.32" width="7.32" height="5.85" fill="#f78486"/>
<rect x="436.37" y="133.32" width="7.32" height="5.85" fill="#dcdcfc"/>
<rect x="444.66" y="133.32" width="7.32" height="5.85" fill="#2c10c2"/>
<rect x="452.94" y="133.32" width="7.32" height="5.85" fill="#dcdcfc"/>
<rect x="461.23" y="133.32" width="7.32" height="5.85" fill="#dcdcfc"/>
<rect x="469.51" y="133.32" width="7.32" height="5.85" fill="#dcdcfc"/>
<rect x="477.80" y="133.32" width="7.32" height="5.85" fill="#f78486"/>
<rect x="162.98" y="140.13" width="7.32" height="5.85" fill="#ef4a4c"/>
<rect x="171.26" y="140.13" width="7.32" height="5.85" fill="#6c6cec"/>
<rect x="179.55" y="140.13" width="7.32" height="5.85" fill="#dcdcfc"/>
<rect x="187.83" y="140.13" width="7.32" height="5.85" fill="#de1616"/>
<rect x="196.12" y="140.13" width="7.32" height="5.85" fill="#dcdcfc"/>
<rect x="204.40" y="140.13" width="7.32" height="5.85" fill="#9595f0"/>
<rect x="212.69" y="140.13" width="7.32" height="5.85" fill="#ef4a4c"/>
<rect x="220.97" y="140.13" width="7.32" height="5.85" fill="#2c10c2"/>
<rect x="229.26" y="140.13" width="7.32" height="5.85" fill="#9595f0"/>
<rect x="237.54" y="140.13" width="7.32" height="5.85" fill="#9595f0"/>
<rect x="245.83" y="140.13" width="7.32" height="5.85" fill="#f7d2ec"/>
<rect x="254.11" y="140.13" width="7.32" height="5.85" fill="#f7d2ec"/>
<rect x="262.40" y="140.13" width="7.32" height="5.85" fill="#f7d2ec"/>
<rect x="270.68" y="140.13" width="7.32" height="5.85" fill="#2c10c2"/>
<rect x="278.96" y="140.13" width="7.32" height="5.85" fill="#9595f0"/>
<rect x="287.25" y="140.13" width="7.32" height="5.85" fill="#9595f0"/>
<rect x="295.53" y="140.13" width="7.32" height="5.85" fill="#dcdcfc"/>
<rect x="303.82" y="140.13" width="7.32" height="5.85" fill="#f7d2ec"/>
<rect x="312.10" y="140.13" width="7.32" height="5.85" fill="#dcdcfc"/>
<rect x="320.39" y="140.13" width="7.32" height="5.85" fill="#9595f0"/>
<rect x="328.67" y="140.13" width="7.32" height="5.85" fill="#f78486"/>
<rect x="336.96" y="140.13" width="7.32" height="5.85" fill="#2c10c2"/>
<rect x="345.24" y="140.13" width="7.32" height="5.85" fill="#dcdcfc"/>
<rect x="353.53" y="140.13" width="7.32" height="5.85" fill="#6c6cec"/>
<rect x="361.81" y="140.13" width="7.32" height="5.85" fill="#f7d2ec"/>
<rect x="370.10" y="140.13" width="7.32" height="5.85" fill="#ef4a4c"/>
<rect x="378.38" y="140.13" width="7.32" height="5.85" fill="#f78486"/>
<rect x="386.66" y="140.13" width="7.32" height="5.85" fill="#f78486"/>
<rect x="394.95" y="140.13" width="7.32" height="5.85" fill="#f78486"/>
<rect x="403.23" y="140.13" width="7.32" height="5.85" fill="#f78486"/>
<rect x="411.52" y="140.13" width="7.32" height="5.85" fill="#f7d2ec"/>
<rect x="419.80" y="140.13" width="7.32" height="5.85" fill="#2c10c2"/>
<rect x="428.09" y="140.13" width="7.32" height="5.85" fill="#f78486"/>
<rect x="436.37" y="140.13" width="7.32" height="5.85" fill="#dcdcfc"/>
<rect x="444.66" y="140.13" width="7.32" height="5.85" fill="#2c10c2"/>
<rect x="452.94" y="140.13" width="7.32" height="5.85" fill="#dcdcfc"/>
<rect x="461.23" y="140.13" width="7.32" height="5.85" fill="#f78486"/>
<rect x="469.51" y="140.13" width="7.32" height="5.85" fill="#6c6cec"/>
<rect x="477.80" y="140.13" width="7.32" height="5.85" fill="#ef4a4c"/>
<rect x="162.98" y="146.94" width="7.32" height="5.85" fill="#6c6cec"/>
<rect x="171.26" y="146.94" width="7.32" height="5.85" fill="#2c10c2"/>
<rect x="179.55" y="146.94" width="7.32" height="5.85" fill="#dcdcfc"/>
<rect x="187.83" y="146.94" width="7.32" height="5.85" fill="#ef4a4c"/>
<rect x="196.12" y="146.94" width="7.32" height="5.85" fill="#de1616"/>
<rect x="204.40" y="146.94" width="7.32" height="5.85" fill="#2c10c2"/>
<rect x="212.69" y="146.94" width="7.32" height="5.85" fill="#f7d2ec"/>
<rect x="220.97" y="146.94" width="7.32" height="5.85" fill="#2c10c2"/>
<rect x="229.26" y="146.94" width="7.32" height="5.85" fill="#2c10c2"/>
<rect x="237.54" y="146.94" width="7.32" height="5.85" fill="#6c6cec"/>
<rect x="245.83" y="146.94" width="7.32" height="5.85" fill="#2c10c2"/>
<rect x="254.11" y="146.94" width="7.32" height="5.85" fill="#2c10c2"/>
<rect x="262.40" y="146.94" width="7.32" height="5.85" fill="#2c10c2"/>
<rect x="270.68" y="146.94" width="7.32" height="5.85" fill="#2c10c2"/>
<rect x="278.96" y="146.94" width="7.32" height="5.85" fill="#2c10c2"/>
<rect x="287.25" y="146.94" width="7.32" height="5.85" fill="#2c10c2"/>
<rect x="295.53" y="146.94" width="7.32" height="5.85" fill="#2c10c2"/>
<rect x="303.82" y="146.94" width="7.32" height="5.85" fill="#f7d2ec"/>
<rect x="312.10" y="146.94" width="7.32" height="5.85" fill="#f7d2ec"/>
<rect x="320.39" y="146.94" width="7.32" height="5.85" fill="#2c10c2"/>
<rect x="328.67" y="146.94" width="7.32" height="5.85" fill="#2c10c2"/>
<rect x="336.96" y="146.94" width="7.32" height="5.85" fill="#2c10c2"/>
<rect x="345.24" y="146.94" width="7.32" height="5.85" fill="#dcdcfc"/>
<rect x="353.53" y="146.94" width="7.32" height="5.85" fill="#2c10c2"/>
<rect x="361.81" y="146.94" width="7.32" height="5.85" fill="#f78486"/>
<rect x="370.10" y="146.94" width="7.32" height="5.85" fill="#ef4a4c"/>
<rect x="378.38" y="146.94" width="7.32" height="5.85" fill="#2c10c2"/>
<rect x="386.66" y="146.94" width="7.32" height="5.85" fill="#2c10c2"/>
<rect x="394.95" y="146.94" width="7.32" height="5.85" fill="#2c10c2"/>
<rect x="403.23" y="146.94" width="7.32" height="5.85" fill="#f78486"/>
<rect x="411.52" y="146.94" width="7.32" height="5.85" fill="#2c10c2"/>
<rect x="419.80" y="146.94" width="7.32" height="5.85" fill="#2c10c2"/>
<rect x="428.09" y="146.94" width="7.32" height="5.85" fill="#f7d2ec"/>
<rect x="436.37" y="146.94" width="7.32" height="5.85" fill="#f78486"/>
<rect x="444.66" y="146.94" width="7.32" height="5.85" fill="#2c10c2"/>
<rect x="452.94" y="146.94" width="7.32" height="5.85" fill="#6c6cec"/>
<rect x="461.23" y="146.94" width="7.32" height="5.85" fill="#f7d2ec"/>
<rect x="469.51" y="146.94" width="7.32" height="5.85" fill="#2c10c2"/>
<rect x="477.80" y="146.94" width="7.32" height="5.85" fill="#2c10c2"/>
<rect x="162.98" y="153.75" width="7.32" height="5.85" fill="#ef4a4c"/>
<rect x="171.26" y="153.75" width="7.32" height="5.85" fill="#f78486"/>
<rect x="179.55" y="153.75" width="7.32" height="5.85" fill="#dcdcfc"/>
<rect x="187.83" y="153.75" width="7.32" height="5.85" fill="#ef4a4c"/>
<rect x="196.12" y="153.75" width="7.32" height="5.85" fill="#de1616"/>
<rect x="204.40" y="153.75" width="7.32" height="5.85" fill="#dcdcfc"/>
<rect x="212.69" y="153.75" width="7.32" height="5.85" fill="#2c10c2"/>
<rect x="220.97" y="153.75" width="7.32" height="5.85" fill="#f78486"/>
<rect x="229.26" y="153.75" width="7.32" height="5.85" fill="#dcdcfc"/>
<rect x="237.54" y="153.75" width="7.32" height="5.85" fill="#ef4a4c"/>
<rect x="245.83" y="153.75" width="7.32" height="5.85" fill="#f78486"/>
<rect x="254.11" y="153.75" width="7.32" height="5.85" fill="#dcdcfc"/>
<rect x="262.40" y="153.75" width="7.32" height="5.85" fill="#dcdcfc"/>
<rect x="270.68" y="153.75" width="7.32" height="5.85" fill="#ef4a4c"/>
<rect x="278.96" y="153.75" width="7.32" height="5.85" fill="#f78486"/>
<rect x="287.25" y="153.75" width="7.32" height="5.85" fill="#f7d2ec"/>
<rect x="295.53" y="153.75" width="7.32" height="5.85" fill="#f78486"/>
<rect x="303.82" y="153.75" width="7.32" height="5.85" fill="#f78486"/>
<rect x="312.10" y="153.75" width="7.32" height="5.85" fill="#dcdcfc"/>
<rect x="320.39" y="153.75" width="7.32" height="5.85" fill="#dcdcfc"/>
<rect x="328.67" y="153.75" width="7.32" height="5.85" fill="#2c10c2"/>
<rect x="336.96" y="153.75" width="7.32" height="5.85" fill="#2c10c2"/>
<rect x="345.24" y="153.75" width="7.32" height="5.85" fill="#dcdcfc"/>
<rect x="353.53" y="153.75" width="7.32" height="5.85" fill="#f7d2ec"/>
<rect x="361.81" y="153.75" width="7.32" height="5.85" fill="#dcdcfc"/>
<rect x="370.10" y="153.75" width="7.32" height="5.85" fill="#f7d2ec"/>
<rect x="378.38" y="153.75" width="7.32" height="5.85" fill="#dcdcfc"/>
<rect x="386.66" y="153.75" width="7.32" height="5.85" fill="#dcdcfc"/>
<rect x="394.95" y="153.75" width="7.32" height="5.85" fill="#6c6cec"/>
<rect x="403.23" y="153.75" width="7.32" height="5.85" fill="#f78486"/>
<rect x="411.52" y="153.75" width="7.32" height="5.85" fill="#2c10c2"/>
<rect x="419.80" y="153.75" width="7.32" height="5.85" fill="#2c10c2"/>
<rect x="428.09" y="153.75" width="7.32" height="5.85" fill="#de1616"/>
<rect x="436.37" y="153.75" width="7.32" height="5.85" fill="#f78486"/>
<rect x="444.66" y="153.75" width="7.32" height="5.85" fill="#2c10c2"/>
<rect x="452.94" y="153.75" width="7.32" height="5.85" fill="#dcdcfc"/>
<rect x="461.23" y="153.75" width="7.32" height="5.85" fill="#dcdcfc"/>
<rect x="469.51" y="153.75" width="7.32" height="5.85" fill="#dcdcfc"/>
<rect x="477.80" y="153.75" width="7.32" height="5.85" fill="#f78486"/>
<rect x="162.98" y="160.57" width="7.32" height="5.85" fill="#f7d2ec"/>
<rect x="171.26" y="160.57" width="7.32" height="5.85" fill="#f7d2ec"/>
<rect x="179.55" y="160.57" width="7.32" height="5.85" fill="#dcdcfc"/>
<rect x="187.83" y="160.57" width="7.32" height="5.85" fill="#f78486"/>
<rect x="196.12" y="160.57" width="7.32" height="5.85" fill="#f78486"/>
<rect x="204.40" y="160.57" width="7.32" height="5.85" fill="#dcdcfc"/>
<rect x="212.69" y="160.57" width="7.32" height="5.85" fill="#dcdcfc"/>
<rect x="220.97" y="160.57" width="7.32" height="5.85" fill="#f78486"/>
<rect x="229.26" y="160.57" width="7.32" height="5.85" fill="#dcdcfc"/>
<rect x="237.54" y="160.57" width="7.32" height="5.85" fill="#de1616"/>
<rect x="245.83" y="160.57" width="7.32" height="5.85" fill="#f78486"/>
<rect x="254.11" y="160.57" width="7.32" height="5.85" fill="#9595f0"/>
<rect x="262.40" y="160.57" width="7.32" height="5.85" fill="#f7d2ec"/>
<rect x="270.68" y="160.57" width="7.32" height="5.85" fill="#f78486"/>
<rect x="278.96" y="160.57" width="7.32" height="5.85" fill="#f78486"/>
<rect x="287.25" y="160.57" width="7.32" height="5.85" fill="#f7d2ec"/>
<rect x="295.53" y="160.57" width="7.32" height="5.85" fill="#f78486"/>
<rect x="303.82" y="160.57" width="7.32" height="5.85" fill="#f7d2ec"/>
<rect x="312.10" y="160.57" width="7.32" height="5.85" fill="#9595f0"/>
<rect x="320.39" y="160.57" width="7.32" height="5.85" fill="#f7d2ec"/>
<rect x="328.67" y="160.57" width="7.32" height="5.85" fill="#2c10c2"/>
<rect x="336.96" y="160.57" width="7.32" height="5.85" fill="#2c10c2"/>
<rect x="345.24" y="160.57" width="7.32" height="5.85" fill="#dcdcfc"/>
<rect x="353.53" y="160.57" width="7.32" height="5.85" fill="#9595f0"/>
<rect x="361.81" y="160.57" width="7.32" height="5.85" fill="#9595f0"/>
<rect x="370.10" y="160.57" width="7.32" height="5.85" fill="#dcdcfc"/>
<rect x="378.38" y="160.57" width="7.32" height="5.85" fill="#2c10c2"/>
<rect x="386.66" y="160.57" width="7.32" height="5.85" fill="#2c10c2"/>
<rect x="394.95" y="160.57" width="7.32" height="5.85" fill="#f78486"/>
<rect x="403.23" y="160.57" width="7.32" height="5.85" fill="#6c6cec"/>
<rect x="411.52" y="160.57" width="7.32" height="5.85" fill="#2c10c2"/>
<rect x="419.80" y="160.57" width="7.32" height="5.85" fill="#2c10c2"/>
<rect x="428.09" y="160.57" width="7.32" height="5.85" fill="#dcdcfc"/>
<rect x="436.37" y="160.57" width="7.32" height="5.85" fill="#9595f0"/>
<rect x="444.66" y="160.57" width="7.32" height="5.85" fill="#2c10c2"/>
<rect x="452.94" y="160.57" width="7.32" height="5.85" fill="#f7d2ec"/>
<rect x="461.23" y="160.57" width="7.32" height="5.85" fill="#6c6cec"/>
<rect x="469.51" y="160.57" width="7.32" height="5.85" fill="#de1616"/>
<rect x="477.80" y="160.57" width="7.32" height="5.85" fill="#2c10c2"/>
<rect x="162.98" y="167.38" width="7.32" height="5.85" fill="#f78486"/>
<rect x="171.26" y="167.38" width="7.32" height="5.85" fill="#dcdcfc"/>
<rect x="179.55" y="167.38" width="7.32" height="5.85" fill="#f7d2ec"/>
<rect x="187.83" y="167.38" width="7.32" height="5.85" fill="#f7d2ec"/>
<rect x="196.12" y="167.38" width="7.32" height="5.85" fill="#6c6cec"/>
<rect x="204.40" y="167.38" width="7.32" height="5.85" fill="#6c6cec"/>
<rect x="212.69" y="167.38" width="7.32" height="5.85" fill="#dcdcfc"/>
<rect x="220.97" y="167.38" width="7.32" height="5.85" fill="#6c6cec"/>
<rect x="229.26" y="167.38" width="7.32" height="5.85" fill="#dcdcfc"/>
<rect x="237.54" y="167.38" width="7.32" height="5.85" fill="#f7d2ec"/>
<rect x="245.83" y="167.38" width="7.32" height="5.85" fill="#dcdcfc"/>
<rect x="254.11" y="167.38" width="7.32" height="5.85" fill="#dcdcfc"/>
<rect x="262.40" y="167.38" width="7.32" height="5.85" fill="#f7d2ec"/>
<rect x="270.68" y="167.38" width="7.32" height="5.85" fill="#dcdcfc"/>
<rect x="278.96" y="167.38" width="7.32" height="5.85" fill="#dcdcfc"/>
<rect x="287.25" y="167.38" width="7.32" height="5.85" fill="#dcdcfc"/>
<rect x="295.53" y="167.38" width="7.32" height="5.85" fill="#2c10c2"/>
<rect x="303.82" y="167.38" width="7.32" height="5.85" fill="#f7d2ec"/>
<rect x="312.10" y="167.38" width="7.32" height="5.85" fill="#dcdcfc"/>
<rect x="320.39" y="167.38" width="7.32" height="5.85" fill="#f7d2ec"/>
<rect x="328.67" y="167.38" width="7.32" height="5.85" fill="#2c10c2"/>
<rect x="336.96" y="167.38" width="7.32" height="5.85" fill="#6c6cec"/>
<rect x="345.24" y="167.38" width="7.32" height="5.85" fill="#f7d2ec"/>
<rect x="353.53" y="167.38" width="7.32" height="5.85" fill="#6c6cec"/>
<rect x="361.81" y="167.38" width="7.32" height="5.85" fill="#dcdcfc"/>
<rect x="370.10" y="167.38" width="7.32" height="5.85" fill="#9595f0"/>
<rect x="378.38" y="167.38" width="7.32" height="5.85" fill="#6c6cec"/>
<rect x="386.66" y="167.38" width="7.32" height="5.85" fill="#f7d2ec"/>
<rect x="394.95" y="167.38" width="7.32" height="5.85" fill="#9595f0"/>
<rect x="403.23" y="167.38" width="7.32" height="5.85" fill="#dcdcfc"/>
<rect x="411.52" y="167.38" width="7.32" height="5.85" fill="#dcdcfc"/>
<rect x="419.80" y="167.38" width="7.32" height="5.85" fill="#dcdcfc"/>
<rect x="428.09" y="167.38" width="7.32" height="5.85" fill="#dcdcfc"/>
<rect x="436.37" y="167.38" width="7.32" height="5.85" fill="#de1616"/>
<rect x="444.66" y="167.38" width="7.32" height="5.85" fill="#2c10c2"/>
<rect x="452.94" y="167.38" width="7.32" height="5.85" fill="#2c10c2"/>
<rect x="461.23" y="167.38" width="7.32" height="5.85" fill="#2c10c2"/>
<rect x="469.51" y="167.38" width="7.32" height="5.85" fill="#2c10c2"/>
<rect x="477.80" y="167.38" width="7.32" height="5.85" fill="#9595f0"/>
<rect x="162.98" y="174.19" width="7.32" height="5.85" fill="#ef4a4c"/>
<rect x="171.26" y="174.19" width="7.32" height="5.85" fill="#ef4a4c"/>
<rect x="179.55" y="174.19" width="7.32" height="5.85" fill="#dcdcfc"/>
<rect x="187.83" y="174.19" width="7.32" height="5.85" fill="#f78486"/>
<rect x="196.12" y="174.19" width="7.32" height="5.85" fill="#dcdcfc"/>
<rect x="204.40" y="174.19" width="7.32" height="5.85" fill="#f78486"/>
<rect x="212.69" y="174.19" width="7.32" height="5.85" fill="#dcdcfc"/>
<rect x="220.97" y="174.19" width="7.32" height="5.85" fill="#dcdcfc"/>
<rect x="229.26" y="174.19" width="7.32" height="5.85" fill="#dcdcfc"/>
<rect x="237.54" y="174.19" width="7.32" height="5.85" fill="#f78486"/>
<rect x="245.83" y="174.19" width="7.32" height="5.85" fill="#ef4a4c"/>
<rect x="254.11" y="174.19" width="7.32" height="5.85" fill="#f7d2ec"/>
<rect x="262.40" y="174.19" width="7.32" height="5.85" fill="#f78486"/>
<rect x="270.68" y="174.19" width="7.32" height="5.85" fill="#ef4a4c"/>
<rect x="278.96" y="174.19" width="7.32" height="5.85" fill="#de1616"/>
<rect x="287.25" y="174.19" width="7.32" height="5.85" fill="#ef4a4c"/>
<rect x="295.53" y="174.19" width="7.32" height="5.85" fill="#dcdcfc"/>
<rect x="303.82" y="174.19" width="7.32" height="5.85" fill="#dcdcfc"/>
<rect x="312.10" y="174.19" width="7.32" height="5.85" fill="#9595f0"/>
<rect x="320.39" y="174.19" width="7.32" height="5.85" fill="#f7d2ec"/>
<rect x="328.67" y="174.19" width="7.32" height="5.85" fill="#2c10c2"/>
<rect x="336.96" y="174.19" width="7.32" height="5.85" fill="#2c10c2"/>
<rect x="345.24" y="174.19" width="7.32" height="5.85" fill="#9595f0"/>
<rect x="353.53" y="174.19" width="7.32" height="5.85" fill="#dcdcfc"/>
<rect x="361.81" y="174.19" width="7.32" height="5.85" fill="#dcdcfc"/>
<rect x="370.10" y="174.19" width="7.32" height="5.85" fill="#f7d2ec"/>
<rect x="378.38" y="174.19" width="7.32" height="5.85" fill="#ef4a4c"/>
<rect x="386.66" y="174.19" width="7.32" height="5.85" fill="#ef4a4c"/>
<rect x="394.95" y="174.19" width="7.32" height="5.85" fill="#6c6cec"/>
<rect x="403.23" y="174.19" width="7.32" height="5.85" fill="#f78486"/>
<rect x="411.52" y="174.19" width="7.32" height="5.85" fill="#2c10c2"/>
<rect x="419.80" y="174.19" width="7.32" height="5.85" fill="#2c10c2"/>
<rect x="428.09" y="174.19" width="7.32" height="5.85" fill="#dcdcfc"/>
<rect x="436.37" y="174.19" width="7.32" height="5.85" fill="#de1616"/>
<rect x="444.66" y="174.19" width="7.32" height="5.85" fill="#2c10c2"/>
<rect x="452.94" y="174.19" width="7.32" height="5.85" fill="#ef4a4c"/>
<rect x="461.23" y="174.19" width="7.32" height="5.85" fill="#dcdcfc"/>
<rect x="469.51" y="174.19" width="7.32" height="5.85" fill="#9595f0"/>
<rect x="477.80" y="174.19" width="7.32" height="5.85" fill="#de1616"/>
<rect x="162.98" y="181.00" width="7.32" height="5.85" fill="#f78486"/>
<rect x="171.26" y="181.00" width="7.32" height="5.85" fill="#6c6cec"/>
<rect x="179.55" y="181.00" width="7.32" height="5.85" fill="#6c6cec"/>
<rect x="187.83" y="181.00" width="7.32" height="5.85" fill="#f78486"/>
<rect x="196.12" y="181.00" width="7.32" height="5.85" fill="#f78486"/>
<rect x="204.40" y="181.00" width="7.32" height="5.85" fill="#f78486"/>
<rect x="212.69" y="181.00" width="7.32" height="5.85" fill="#dcdcfc"/>
<rect x="220.97" y="181.00" width="7.32" height="5.85" fill="#f7d2ec"/>
<rect x="229.26" y="181.00" width="7.32" height="5.85" fill="#dcdcfc"/>
<rect x="237.54" y="181.00" width="7.32" height="5.85" fill="#dcdcfc"/>
<rect x="245.83" y="181.00" width="7.32" height="5.85" fill="#f78486"/>
<rect x="254.11" y="181.00" width="7.32" height="5.85" fill="#f78486"/>
<rect x="262.40" y="181.00" width="7.32" height="5.85" fill="#f7d2ec"/>
<rect x="270.68" y="181.00" width="7.32" height="5.85" fill="#6c6cec"/>
<rect x="278.96" y="181.00" width="7.32" height="5.85" fill="#f7d2ec"/>
<rect x="287.25" y="181.00" width="7.32" height="5.85" fill="#f7d2ec"/>
<rect x="295.53" y="181.00" width="7.32" height="5.85" fill="#9595f0"/>
<rect x="303.82" y="181.00" width="7.32" height="5.85" fill="#f7d2ec"/>
<rect x="312.10" y="181.00" width="7.32" height="5.85" fill="#f7d2ec"/>
<rect x="320.39" y="181.00" width="7.32" height="5.85" fill="#dcdcfc"/>
<rect x="328.67" y="181.00" width="7.32" height="5.85" fill="#2c10c2"/>
<rect x="336.96" y="181.00" width="7.32" height="5.85" fill="#2c10c2"/>
<rect x="345.24" y="181.00" width="7.32" height="5.85" fill="#6c6cec"/>
<rect x="353.53" y="181.00" width="7.32" height="5.85" fill="#6c6cec"/>
<rect x="361.81" y="181.00" width="7.32" height="5.85" fill="#dcdcfc"/>
<rect x="370.10" y="181.00" width="7.32" height="5.85" fill="#dcdcfc"/>
<rect x="378.38" y="181.00" width="7.32" height="5.85" fill="#dcdcfc"/>
<rect x="386.66" y="181.00" width="7.32" height="5.85" fill="#6c6cec"/>
<rect x="394.95" y="181.00" width="7.32" height="5.85" fill="#f7d2ec"/>
<rect x="403.23" y="181.00" width="7.32" height="5.85" fill="#f78486"/>
<rect x="411.52" y="181.00" width="7.32" height="5.85" fill="#2c10c2"/>
<rect x="419.80" y="181.00" width="7.32" height="5.85" fill="#2c10c2"/>
<rect x="428.09" y="181.00" width="7.32" height="5.85" fill="#ef4a4c"/>
<rect x="436.37" y="181.00" width="7.32" height="5.85" fill="#de1616"/>
<rect x="444.66" y="181.00" width="7.32" height="5.85" fill="#6c6cec"/>
<rect x="452.94" y="181.00" width="7.32" height="5.85" fill="#f7d2ec"/>
<rect x="461.23" y="181.00" width="7.32" height="5.85" fill="#dcdcfc"/>
<rect x="469.51" y="181.00" width="7.32" height="5.85" fill="#2c10c2"/>
<rect x="477.80" y="181.00" width="7.32" height="5.85" fill="#f78486"/>
<rect x="162.98" y="187.82" width="7.32" height="5.85" fill="#f78486"/>
<rect x="171.26" y="187.82" width="7.32" height="5.85" fill="#dcdcfc"/>
<rect x="179.55" y="187.82" width="7.32" height="5.85" fill="#6c6cec"/>
<rect x="187.83" y="187.82" width="7.32" height="5.85" fill="#f78486"/>
<rect x="196.12" y="187.82" width="7.32" height="5.85" fill="#dcdcfc"/>
<rect x="204.40" y="187.82" width="7.32" height="5.85" fill="#dcdcfc"/>
<rect x="212.69" y="187.82" width="7.32" height="5.85" fill="#f7d2ec"/>
<rect x="220.97" y="187.82" width="7.32" height="5.85" fill="#6c6cec"/>
<rect x="229.26" y="187.82" width="7.32" height="5.85" fill="#2c10c2"/>
<rect x="237.54" y="187.82" width="7.32" height="5.85" fill="#de1616"/>
<rect x="245.83" y="187.82" width="7.32" height="5.85" fill="#dcdcfc"/>
<rect x="254.11" y="187.82" width="7.32" height="5.85" fill="#dcdcfc"/>
<rect x="262.40" y="187.82" width="7.32" height="5.85" fill="#f7d2ec"/>
<rect x="270.68" y="187.82" width="7.32" height="5.85" fill="#f7d2ec"/>
<rect x="278.96" y="187.82" width="7.32" height="5.85" fill="#9595f0"/>
<rect x="287.25" y="187.82" width="7.32" height="5.85" fill="#f78486"/>
<rect x="295.53" y="187.82" width="7.32" height="5.85" fill="#f78486"/>
<rect x="303.82" y="187.82" width="7.32" height="5.85" fill="#f78486"/>
<rect x="312.10" y="187.82" width="7.32" height="5.85" fill="#f7d2ec"/>
<rect x="320.39" y="187.82" width="7.32" height="5.85" fill="#2c10c2"/>
<rect x="328.67" y="187.82" width="7.32" height="5.85" fill="#2c10c2"/>
<rect x="336.96" y="187.82" width="7.32" height="5.85" fill="#2c10c2"/>
<rect x="345.24" y="187.82" width="7.32" height="5.85" fill="#2c10c2"/>
<rect x="353.53" y="187.82" width="7.32" height="5.85" fill="#6c6cec"/>
<rect x="361.81" y="187.82" width="7.32" height="5.85" fill="#9595f0"/>
<rect x="370.10" y="187.82" width="7.32" height="5.85" fill="#9595f0"/>
<rect x="378.38" y="187.82" width="7.32" height="5.85" fill="#2c10c2"/>
<rect x="386.66" y="187.82" width="7.32" height="5.85" fill="#2c10c2"/>
<rect x="394.95" y="187.82" width="7.32" height="5.85" fill="#f78486"/>
<rect x="403.23" y="187.82" width="7.32" height="5.85" fill="#dcdcfc"/>
<rect x="411.52" y="187.82" width="7.32" height="5.85" fill="#2c10c2"/>
<rect x="419.80" y="187.82" width="7.32" height="5.85" fill="#2c10c2"/>
<rect x="428.09" y="187.82" width="7.32" height="5.85" fill="#f78486"/>
<rect x="436.37" y="187.82" width="7.32" height="5.85" fill="#2c10c2"/>
<rect x="444.66" y="187.82" width="7.32" height="5.85" fill="#2c10c2"/>
<rect x="452.94" y="187.82" width="7.32" height="5.85" fill="#dcdcfc"/>
<rect x="461.23" y="187.82" width="7.32" height="5.85" fill="#dcdcfc"/>
<rect x="469.51" y="187.82" width="7.32" height="5.85" fill="#f7d2ec"/>
<rect x="477.80" y="187.82" width="7.32" height="5.85" fill="#dcdcfc"/>
<rect x="162.98" y="194.63" width="7.32" height="5.85" fill="#9595f0"/>
<rect x="171.26" y="194.63" width="7.32" height="5.85" fill="#dcdcfc"/>
<rect x="179.55" y="194.63" width="7.32" height="5.85" fill="#f78486"/>
<rect x="187.83" y="194.63" width="7.32" height="5.85" fill="#6c6cec"/>
<rect x="196.12" y="194.63" width="7.32" height="5.85" fill="#f78486"/>
<rect x="204.40" y="194.63" width="7.32" height="5.85" fill="#9595f0"/>
<rect x="212.69" y="194.63" width="7.32" height="5.85" fill="#dcdcfc"/>
<rect x="220.97" y="194.63" width="7.32" height="5.85" fill="#2c10c2"/>
<rect x="229.26" y="194.63" width="7.32" height="5.85" fill="#2c10c2"/>
<rect x="237.54" y="194.63" width="7.32" height="5.85" fill="#dcdcfc"/>
<rect x="245.83" y="194.63" width="7.32" height="5.85" fill="#f7d2ec"/>
<rect x="254.11" y="194.63" width="7.32" height="5.85" fill="#dcdcfc"/>
<rect x="262.40" y="194.63" width="7.32" height="5.85" fill="#6c6cec"/>
<rect x="270.68" y="194.63" width="7.32" height="5.85" fill="#6c6cec"/>
<rect x="278.96" y="194.63" width="7.32" height="5.85" fill="#2c10c2"/>
<rect x="287.25" y="194.63" width="7.32" height="5.85" fill="#dcdcfc"/>
<rect x="295.53" y="194.63" width="7.32" height="5.85" fill="#9595f0"/>
<rect x="303.82" y="194.63" width="7.32" height="5.85" fill="#de1616"/>
<rect x="312.10" y="194.63" width="7.32" height="5.85" fill="#de1616"/>
<rect x="320.39" y="194.63" width="7.32" height="5.85" fill="#6c6cec"/>
<rect x="328.67" y="194.63" width="7.32" height="5.85" fill="#2c10c2"/>
<rect x="336.96" y="194.63" width="7.32" height="5.85" fill="#2c10c2"/>
<rect x="345.24" y="194.63" width="7.32" height="5.85" fill="#f78486"/>
<rect x="353.53" y="194.63" width="7.32" height="5.85" fill="#2c10c2"/>
<rect x="361.81" y="194.63" width="7.32" height="5.85" fill="#f78486"/>
<rect x="370.10" y="194.63" width="7.32" height="5.85" fill="#f78486"/>
<rect x="378.38" y="194.63" width="7.32" height="5.85" fill="#dcdcfc"/>
<rect x="386.66" y="194.63" width="7.32" height="5.85" fill="#dcdcfc"/>
<rect x="394.95" y="194.63" width="7.32" height="5.85" fill="#2c10c2"/>
<rect x="403.23" y="194.63" width="7.32" height="5.85" fill="#f7d2ec"/>
<rect x="411.52" y="194.63" width="7.32" height="5.85" fill="#2c10c2"/>
<rect x="419.80" y="194.63" width="7.32" height="5.85" fill="#2c10c2"/>
<rect x="428.09" y="194.63" width="7.32" height="5.85" fill="#f78486"/>
<rect x="436.37" y="194.63" width="7.32" height="5.85" fill="#dcdcfc"/>
<rect x="444.66" y="194.63" width="7.32" height="5.85" fill="#2c10c2"/>
<rect x="452.94" y="194.63" width="7.32" height="5.85" fill="#f78486"/>
<rect x="461.23" y="194.63" width="7.32" height="5.85" fill="#f78486"/>
<rect x="469.51" y="194.63" width="7.32" height="5.85" fill="#2c10c2"/>
<rect x="477.80" y="194.63" width="7.32" height="5.85" fill="#f7d2ec"/>
<rect x="162.98" y="201.44" width="7.32" height="5.85" fill="#f7d2ec"/>
<rect x="171.26" y="201.44" width="7.32" height="5.85" fill="#6c6cec"/>
<rect x="179.55" y="201.44" width="7.32" height="5.85" fill="#6c6cec"/>
<rect x="187.83" y="201.44" width="7.32" height="5.85" fill="#ef4a4c"/>
<rect x="196.12" y="201.44" width="7.32" height="5.85" fill="#2c10c2"/>
<rect x="204.40" y="201.44" width="7.32" height="5.85" fill="#9595f0"/>
<rect x="212.69" y="201.44" width="7.32" height="5.85" fill="#dcdcfc"/>
<rect x="220.97" y="201.44" width="7.32" height="5.85" fill="#f78486"/>
<rect x="229.26" y="201.44" width="7.32" height="5.85" fill="#f78486"/>
<rect x="237.54" y="201.44" width="7.32" height="5.85" fill="#2c10c2"/>
<rect x="245.83" y="201.44" width="7.32" height="5.85" fill="#6c6cec"/>
<rect x="254.11" y="201.44" width="7.32" height="5.85" fill="#6c6cec"/>
<rect x="262.40" y="201.44" width="7.32" height="5.85" fill="#2c10c2"/>
<rect x="270.68" y="201.44" width="7.32" height="5.85" fill="#f78486"/>
<rect x="278.96" y="201.44" width="7.32" height="5.85" fill="#dcdcfc"/>
<rect x="287.25" y="201.44" width="7.32" height="5.85" fill="#2c10c2"/>
<rect x="295.53" y="201.44" width="7.32" height="5.85" fill="#2c10c2"/>
<rect x="303.82" y="201.44" width="7.32" height="5.85" fill="#9595f0"/>
<rect x="312.10" y="201.44" width="7.32" height="5.85" fill="#2c10c2"/>
<rect x="320.39" y="201.44" width="7.32" height="5.85" fill="#f78486"/>
<rect x="328.67" y="201.44" width="7.32" height="5.85" fill="#f78486"/>
<rect x="336.96" y="201.44" width="7.32" height="5.85" fill="#6c6cec"/>
<rect x="345.24" y="201.44" width="7.32" height="5.85" fill="#f7d2ec"/>
<rect x="353.53" y="201.44" width="7.32" height="5.85" fill="#f78486"/>
<rect x="361.81" y="201.44" width="7.32" height="5.85" fill="#dcdcfc"/>
<rect x="370.10" y="201.44" width="7.32" height="5.85" fill="#f78486"/>
<rect x="378.38" y="201.44" width="7.32" height="5.85" fill="#dcdcfc"/>
<rect x="386.66" y="201.44" width="7.32" height="5.85" fill="#f7d2ec"/>
<rect x="394.95" y="201.44" width="7.32" height="5.85" fill="#dcdcfc"/>
<rect x="403.23" y="201.44" width="7.32" height="5.85" fill="#dcdcfc"/>
<rect x="411.52" y="201.44" width="7.32" height="5.85" fill="#f78486"/>
<rect x="419.80" y="201.44" width="7.32" height="5.85" fill="#f7d2ec"/>
<rect x="428.09" y="201.44" width="7.32" height="5.85" fill="#dcdcfc"/>
<rect x="436.37" y="201.44" width="7.32" height="5.85" fill="#9595f0"/>
<rect x="444.66" y="201.44" width="7.32" height="5.85" fill="#dcdcfc"/>
<rect x="452.94" y="201.44" width="7.32" height="5.85" fill="#de1616"/>
<rect x="461.23" y="201.44" width="7.32" height="5.85" fill="#dcdcfc"/>
<rect x="469.51" y="201.44" width="7.32" height="5.85" fill="#f78486"/>
<rect x="477.80" y="201.44" width="7.32" height="5.85" fill="#dcdcfc"/>
<rect x="162.98" y="208.25" width="7.32" height="5.85" fill="#2c10c2"/>
<rect x="171.26" y="208.25" width="7.32" height="5.85" fill="#2c10c2"/>
<rect x="179.55" y="208.25" width="7.32" height="5.85" fill="#2c10c2"/>
<rect x="187.83" y="208.25" width="7.32" height="5.85" fill="#f7d2ec"/>
<rect x="196.12" y="208.25" width="7.32" height="5.85" fill="#2c10c2"/>
<rect x="204.40" y="208.25" width="7.32" height="5.85" fill="#2c10c2"/>
<rect x="212.69" y="208.25" width="7.32" height="5.85" fill="#2c10c2"/>
<rect x="220.97" y="208.25" width="7.32" height="5.85" fill="#2c10c2"/>
<rect x="229.26" y="208.25" width="7.32" height="5.85" fill="#2c10c2"/>
<rect x="237.54" y="208.25" width="7.32" height="5.85" fill="#ef4a4c"/>
<rect x="245.83" y="208.25" width="7.32" height="5.85" fill="#2c10c2"/>
<rect x="254.11" y="208.25" width="7.32" height="5.85" fill="#2c10c2"/>
<rect x="262.40" y="208.25" width="7.32" height="5.85" fill="#6c6cec"/>
<rect x="270.68" y="208.25" width="7.32" height="5.85" fill="#2c10c2"/>
<rect x="278.96" y="208.25" width="7.32" height="5.85" fill="#f7d2ec"/>
<rect x="287.25" y="208.25" width="7.32" height="5.85" fill="#2c10c2"/>
<rect x="295.53" y="208.25" width="7.32" height="5.85" fill="#2c10c2"/>
<rect x="303.82" y="208.25" width="7.32" height="5.85" fill="#2c10c2"/>
<rect x="312.10" y="208.25" width="7.32" height="5.85" fill="#2c10c2"/>
<rect x="320.39" y="208.25" width="7.32" height="5.85" fill="#2c10c2"/>
<rect x="328.67" y="208.25" width="7.32" height="5.85" fill="#2c10c2"/>
<rect x="336.96" y="208.25" width="7.32" height="5.85" fill="#2c10c2"/>
<rect x="345.24" y="208.25" width="7.32" height="5.85" fill="#f78486"/>
<rect x="353.53" y="208.25" width="7.32" height="5.85" fill="#6c6cec"/>
<rect x="361.81" y="208.25" width="7.32" height="5.85" fill="#2c10c2"/>
<rect x="370.10" y="208.25" width="7.32" height="5.85" fill="#f7d2ec"/>
<rect x="378.38" y="208.25" width="7.32" height="5.85" fill="#f7d2ec"/>
<rect x="386.66" y="208.25" width="7.32" height="5.85" fill="#f78486"/>
<rect x="394.95" y="208.25" width="7.32" height="5.85" fill="#2c10c2"/>
<rect x="403.23" y="208.25" width="7.32" height="5.85" fill="#de1616"/>
<rect x="411.52" y="208.25" width="7.32" height="5.85" fill="#2c10c2"/>
<rect x="419.80" y="208.25" width="7.32" height="5.85" fill="#2c10c2"/>
<rect x="428.09" y="208.25" width="7.32" height="5.85" fill="#f7d2ec"/>
<rect x="436.37" y="208.25" width="7.32" height="5.85" fill="#f7d2ec"/>
<rect x="444.66" y="208.25" width="7.32" height="5.85" fill="#ef4a4c"/>
<rect x="452.94" y="208.25" width="7.32" height="5.85" fill="#2c10c2"/>
<rect x="461.23" y="208.25" width="7.32" height="5.85" fill="#2c10c2"/>
<rect x="469.51" y="208.25" width="7.32" height="5.85" fill="#2c10c2"/>
<rect x="477.80" y="208.25" width="7.32" height="5.85" fill="#de1616"/>
<rect x="162.98" y="215.07" width="7.32" height="5.85" fill="#dcdcfc"/>
<rect x="171.26" y="215.07" width="7.32" height="5.85" fill="#f7d2ec"/>
<rect x="179.55" y="215.07" width="7.32" height="5.85" fill="#f7d2ec"/>
<rect x="187.83" y="215.07" width="7.32" height="5.85" fill="#2c10c2"/>
<rect x="196.12" y="215.07" width="7.32" height="5.85" fill="#6c6cec"/>
<rect x="204.40" y="215.07" width="7.32" height="5.85" fill="#9595f0"/>
<rect x="212.69" y="215.07" width="7.32" height="5.85" fill="#6c6cec"/>
<rect x="220.97" y="215.07" width="7.32" height="5.85" fill="#f7d2ec"/>
<rect x="229.26" y="215.07" width="7.32" height="5.85" fill="#f78486"/>
<rect x="237.54" y="215.07" width="7.32" height="5.85" fill="#2c10c2"/>
<rect x="245.83" y="215.07" width="7.32" height="5.85" fill="#9595f0"/>
<rect x="254.11" y="215.07" width="7.32" height="5.85" fill="#9595f0"/>
<rect x="262.40" y="215.07" width="7.32" height="5.85" fill="#9595f0"/>
<rect x="270.68" y="215.07" width="7.32" height="5.85" fill="#dcdcfc"/>
<rect x="278.96" y="215.07" width="7.32" height="5.85" fill="#f7d2ec"/>
<rect x="287.25" y="215.07" width="7.32" height="5.85" fill="#9595f0"/>
<rect x="295.53" y="215.07" width="7.32" height="5.85" fill="#6c6cec"/>
<rect x="303.82" y="215.07" width="7.32" height="5.85" fill="#9595f0"/>
<rect x="312.10" y="215.07" width="7.32" height="5.85" fill="#2c10c2"/>
<rect x="320.39" y="215.07" width="7.32" height="5.85" fill="#f7d2ec"/>
<rect x="328.67" y="215.07" width="7.32" height="5.85" fill="#f7d2ec"/>
<rect x="336.96" y="215.07" width="7.32" height="5.85" fill="#f7d2ec"/>
<rect x="345.24" y="215.07" width="7.32" height="5.85" fill="#f7d2ec"/>
<rect x="353.53" y="215.07" width="7.32" height="5.85" fill="#f78486"/>
<rect x="361.81" y="215.07" width="7.32" height="5.85" fill="#dcdcfc"/>
<rect x="370.10" y="215.07" width="7.32" height="5.85" fill="#dcdcfc"/>
<rect x="378.38" y="215.07" width="7.32" height="5.85" fill="#dcdcfc"/>
<rect x="386.66" y="215.07" width="7.32" height="5.85" fill="#dcdcfc"/>
<rect x="394.95" y="215.07" width="7.32" height="5.85" fill="#6c6cec"/>
<rect x="403.23" y="215.07" width="7.32" height="5.85" fill="#dcdcfc"/>
<rect x="411.52" y="215.07" width="7.32" height="5.85" fill="#f78486"/>
<rect x="419.80" y="215.07" width="7.32" height="5.85" fill="#de1616"/>
<rect x="428.09" y="215.07" width="7.32" height="5.85" fill="#f7d2ec"/>
<rect x="436.37" y="215.07" width="7.32" height="5.85" fill="#2c10c2"/>
<rect x="444.66" y="215.07" width="7.32" height="5.85" fill="#ef4a4c"/>
<rect x="452.94" y="215.07" width="7.32" height="5.85" fill="#f78486"/>
<rect x="461.23" y="215.07" width="7.32" height="5.85" fill="#f7d2ec"/>
<rect x="469.51" y="215.07" width="7.32" height="5.85" fill="#dcdcfc"/>
<rect x="477.80" y="215.07" width="7.32" height="5.85" fill="#dcdcfc"/>
<text x="166.64" y="56.60" font-size="5.9" font-weight="bold" fill="#000" textLength="6.50" lengthAdjust="spacingAndGlyphs" text-anchor="middle" stroke="#000" stroke-width="0.35">08</text>
<text x="174.93" y="56.60" font-size="5.9" font-weight="bold" fill="#000" textLength="6.50" lengthAdjust="spacingAndGlyphs" text-anchor="middle" stroke="#000" stroke-width="0.35">06</text>
<text x="183.21" y="56.60" font-size="5.9" font-weight="bold" fill="#000" textLength="6.50" lengthAdjust="spacingAndGlyphs" text-anchor="middle" stroke="#000" stroke-width="0.35">11</text>
<text x="191.50" y="56.60" font-size="5.9" font-weight="bold" fill="#000" textLength="6.50" lengthAdjust="spacingAndGlyphs" text-anchor="middle" stroke="#000" stroke-width="0.35">23</text>
<text x="199.78" y="56.60" font-size="5.9" font-weight="bold" fill="#000" textLength="6.50" lengthAdjust="spacingAndGlyphs" text-anchor="middle" stroke="#000" stroke-width="0.35">42</text>
<text x="208.07" y="56.60" font-size="5.9" font-weight="bold" fill="#000" textLength="6.50" lengthAdjust="spacingAndGlyphs" text-anchor="middle" stroke="#000" stroke-width="0.35">17</text>
<text x="216.35" y="56.60" font-size="5.9" font-weight="bold" fill="#000" textLength="6.50" lengthAdjust="spacingAndGlyphs" text-anchor="middle" stroke="#000" stroke-width="0.35">13</text>
<text x="224.63" y="56.60" font-size="5.9" font-weight="bold" fill="#000" textLength="6.50" lengthAdjust="spacingAndGlyphs" text-anchor="middle" stroke="#000" stroke-width="0.35">04</text>
<text x="232.92" y="56.60" font-size="5.9" font-weight="bold" fill="#000" textLength="6.50" lengthAdjust="spacingAndGlyphs" text-anchor="middle" stroke="#000" stroke-width="0.35">09</text>
<text x="241.20" y="56.60" font-size="5.9" font-weight="bold" fill="#000" textLength="6.50" lengthAdjust="spacingAndGlyphs" text-anchor="middle" stroke="#000" stroke-width="0.35">26</text>
<text x="249.49" y="56.60" font-size="5.9" font-weight="bold" fill="#000" textLength="6.50" lengthAdjust="spacingAndGlyphs" text-anchor="middle" stroke="#000" stroke-width="0.35">29</text>
<text x="257.77" y="56.60" font-size="5.9" font-weight="bold" fill="#000" textLength="6.50" lengthAdjust="spacingAndGlyphs" text-anchor="middle" stroke="#000" stroke-width="0.35">27</text>
<text x="266.06" y="56.60" font-size="5.9" font-weight="bold" fill="#000" textLength="6.50" lengthAdjust="spacingAndGlyphs" text-anchor="middle" stroke="#000" stroke-width="0.35">25</text>
<text x="274.34" y="56.60" font-size="5.9" font-weight="bold" fill="#000" textLength="6.50" lengthAdjust="spacingAndGlyphs" text-anchor="middle" stroke="#000" stroke-width="0.35">15</text>
<text x="282.63" y="56.60" font-size="5.9" font-weight="bold" fill="#000" textLength="6.50" lengthAdjust="spacingAndGlyphs" text-anchor="middle" stroke="#000" stroke-width="0.35">12</text>
<text x="290.91" y="56.60" font-size="5.9" font-weight="bold" fill="#000" textLength="6.50" lengthAdjust="spacingAndGlyphs" text-anchor="middle" stroke="#000" stroke-width="0.35">07</text>
<text x="299.20" y="56.60" font-size="5.9" font-weight="bold" fill="#000" textLength="6.50" lengthAdjust="spacingAndGlyphs" text-anchor="middle" stroke="#000" stroke-width="0.35">28</text>
<text x="307.48" y="56.60" font-size="5.9" font-weight="bold" fill="#000" textLength="6.50" lengthAdjust="spacingAndGlyphs" text-anchor="middle" stroke="#000" stroke-width="0.35">16</text>
<text x="315.77" y="56.60" font-size="5.9" font-weight="bold" fill="#000" textLength="6.50" lengthAdjust="spacingAndGlyphs" text-anchor="middle" stroke="#000" stroke-width="0.35">21</text>
<text x="324.05" y="56.60" font-size="5.9" font-weight="bold" fill="#000" textLength="6.50" lengthAdjust="spacingAndGlyphs" text-anchor="middle" stroke="#000" stroke-width="0.35">10</text>
<text x="332.33" y="56.60" font-size="5.9" font-weight="bold" fill="#000" textLength="6.50" lengthAdjust="spacingAndGlyphs" text-anchor="middle" stroke="#000" stroke-width="0.35">22</text>
<text x="340.62" y="56.60" font-size="5.9" font-weight="bold" fill="#000" textLength="6.50" lengthAdjust="spacingAndGlyphs" text-anchor="middle" stroke="#000" stroke-width="0.35">41</text>
<text x="348.90" y="56.60" font-size="5.9" font-weight="bold" fill="#000" textLength="6.50" lengthAdjust="spacingAndGlyphs" text-anchor="middle" stroke="#000" stroke-width="0.35">03</text>
<text x="357.19" y="56.60" font-size="5.9" font-weight="bold" fill="#000" textLength="6.50" lengthAdjust="spacingAndGlyphs" text-anchor="middle" stroke="#000" stroke-width="0.35">24</text>
<text x="365.47" y="56.60" font-size="5.9" font-weight="bold" fill="#000" textLength="6.50" lengthAdjust="spacingAndGlyphs" text-anchor="middle" stroke="#000" stroke-width="0.35">20</text>
<text x="373.76" y="56.60" font-size="5.9" font-weight="bold" fill="#000" textLength="6.50" lengthAdjust="spacingAndGlyphs" text-anchor="middle" stroke="#000" stroke-width="0.35">19</text>
<text x="382.04" y="56.60" font-size="5.9" font-weight="bold" fill="#000" textLength="6.50" lengthAdjust="spacingAndGlyphs" text-anchor="middle" stroke="#000" stroke-width="0.35">32</text>
<text x="390.33" y="56.60" font-size="5.9" font-weight="bold" fill="#000" textLength="6.50" lengthAdjust="spacingAndGlyphs" text-anchor="middle" stroke="#000" stroke-width="0.35">18</text>
<text x="398.61" y="56.60" font-size="5.9" font-weight="bold" fill="#000" textLength="6.50" lengthAdjust="spacingAndGlyphs" text-anchor="middle" stroke="#000" stroke-width="0.35">39</text>
<text x="406.90" y="56.60" font-size="5.9" font-weight="bold" fill="#000" textLength="6.50" lengthAdjust="spacingAndGlyphs" text-anchor="middle" stroke="#000" stroke-width="0.35">33</text>
<text x="415.18" y="56.60" font-size="5.9" font-weight="bold" fill="#000" textLength="6.50" lengthAdjust="spacingAndGlyphs" text-anchor="middle" stroke="#000" stroke-width="0.35">38</text>
<text x="423.47" y="56.60" font-size="5.9" font-weight="bold" fill="#000" textLength="6.50" lengthAdjust="spacingAndGlyphs" text-anchor="middle" stroke="#000" stroke-width="0.35">34</text>
<text x="431.75" y="56.60" font-size="5.9" font-weight="bold" fill="#000" textLength="6.50" lengthAdjust="spacingAndGlyphs" text-anchor="middle" stroke="#000" stroke-width="0.35">02</text>
<text x="440.03" y="56.60" font-size="5.9" font-weight="bold" fill="#000" textLength="6.50" lengthAdjust="spacingAndGlyphs" text-anchor="middle" stroke="#000" stroke-width="0.35">30</text>
<text x="448.32" y="56.60" font-size="5.9" font-weight="bold" fill="#000" textLength="6.50" lengthAdjust="spacingAndGlyphs" text-anchor="middle" stroke="#000" stroke-width="0.35">35</text>
<text x="456.60" y="56.60" font-size="5.9" font-weight="bold" fill="#000" textLength="6.50" lengthAdjust="spacingAndGlyphs" text-anchor="middle" stroke="#000" stroke-width="0.35">40</text>
<text x="464.89" y="56.60" font-size="5.9" font-weight="bold" fill="#000" textLength="6.50" lengthAdjust="spacingAndGlyphs" text-anchor="middle" stroke="#000" stroke-width="0.35">05</text>
<text x="473.17" y="56.60" font-size="5.9" font-weight="bold" fill="#000" textLength="6.50" lengthAdjust="spacingAndGlyphs" text-anchor="middle" stroke="#000" stroke-width="0.35">14</text>
<text x="481.46" y="56.60" font-size="5.9" font-weight="bold" fill="#000" textLength="6.50" lengthAdjust="spacingAndGlyphs" text-anchor="middle" stroke="#000" stroke-width="0.35">31</text>
<text x="0.00" y="64.90" font-size="5.3" font-weight="bold" fill="#000" stroke="#000" stroke-width="0.15" transform="translate(487.1,0) scale(0.86,1)">CD1E</text>
<text x="0.00" y="71.65" font-size="5.3" font-weight="bold" fill="#000" stroke="#000" stroke-width="0.15" transform="translate(487.1,0) scale(0.86,1)">CD1B</text>
<text x="0.00" y="78.40" font-size="5.3" font-weight="bold" fill="#000" stroke="#000" stroke-width="0.15" transform="translate(487.1,0) scale(0.86,1)">MTHFD1</text>
<text x="0.00" y="85.16" font-size="5.3" font-weight="bold" fill="#000" stroke="#000" stroke-width="0.15" transform="translate(487.1,0) scale(0.86,1)">MYC</text>
<text x="0.00" y="91.91" font-size="5.3" font-weight="bold" fill="#000" stroke="#000" stroke-width="0.15" transform="translate(487.1,0) scale(0.86,1)">MCM4</text>
<text x="0.00" y="98.66" font-size="5.3" font-weight="bold" fill="#000" stroke="#000" stroke-width="0.15" transform="translate(487.1,0) scale(0.86,1)">PTPRF</text>
<text x="0.00" y="105.41" font-size="5.3" font-weight="bold" fill="#000" stroke="#000" stroke-width="0.15" transform="translate(487.1,0) scale(0.86,1)">ADA</text>
<text x="0.00" y="112.17" font-size="5.3" font-weight="bold" fill="#000" stroke="#000" stroke-width="0.15" transform="translate(487.1,0) scale(0.86,1)">LIG1</text>
<text x="0.00" y="118.92" font-size="5.3" font-weight="bold" fill="#000" stroke="#000" stroke-width="0.15" transform="translate(487.1,0) scale(0.86,1)">POLE</text>
<text x="0.00" y="125.67" font-size="5.3" font-weight="bold" fill="#000" stroke="#000" stroke-width="0.15" transform="translate(487.1,0) scale(0.86,1)">RPA1</text>
<text x="0.00" y="132.42" font-size="5.3" font-weight="bold" fill="#000" stroke="#000" stroke-width="0.15" transform="translate(487.1,0) scale(0.86,1)">STMN1</text>
<text x="0.00" y="139.17" font-size="5.3" font-weight="bold" fill="#000" stroke="#000" stroke-width="0.15" transform="translate(487.1,0) scale(0.86,1)">TYMS</text>
<text x="0.00" y="145.93" font-size="5.3" font-weight="bold" fill="#000" stroke="#000" stroke-width="0.15" transform="translate(487.1,0) scale(0.86,1)">ERCC1</text>
<text x="0.00" y="152.68" font-size="5.3" font-weight="bold" fill="#000" stroke="#000" stroke-width="0.15" transform="translate(487.1,0) scale(0.86,1)">CD1A</text>
<text x="0.00" y="159.43" font-size="5.3" font-weight="bold" fill="#000" stroke="#000" stroke-width="0.15" transform="translate(487.1,0) scale(0.86,1)">MCM5</text>
<text x="0.00" y="166.18" font-size="5.3" font-weight="bold" fill="#000" stroke="#000" stroke-width="0.15" transform="translate(487.1,0) scale(0.86,1)">CCNA2</text>
<text x="0.00" y="172.93" font-size="5.3" font-weight="bold" fill="#000" stroke="#000" stroke-width="0.15" transform="translate(487.1,0) scale(0.86,1)">CD1D</text>
<text x="0.00" y="179.69" font-size="5.3" font-weight="bold" fill="#000" stroke="#000" stroke-width="0.15" transform="translate(487.1,0) scale(0.86,1)">HPRT1</text>
<text x="0.00" y="186.44" font-size="5.3" font-weight="bold" fill="#000" stroke="#000" stroke-width="0.15" transform="translate(487.1,0) scale(0.86,1)">TK1</text>
<text x="0.00" y="193.19" font-size="5.3" font-weight="bold" fill="#000" stroke="#000" stroke-width="0.15" transform="translate(487.1,0) scale(0.86,1)">TOP2A</text>
<text x="0.00" y="199.94" font-size="5.3" font-weight="bold" fill="#000" stroke="#000" stroke-width="0.15" transform="translate(487.1,0) scale(0.86,1)">CD1C</text>
<text x="0.00" y="206.70" font-size="5.3" font-weight="bold" fill="#000" stroke="#000" stroke-width="0.15" transform="translate(487.1,0) scale(0.86,1)">NR3C1</text>
<text x="0.00" y="213.45" font-size="5.3" font-weight="bold" fill="#000" stroke="#000" stroke-width="0.15" transform="translate(487.1,0) scale(0.86,1)">MME</text>
<text x="0.00" y="220.20" font-size="5.3" font-weight="bold" fill="#000" stroke="#000" stroke-width="0.15" transform="translate(487.1,0) scale(0.86,1)">TAX1BP1</text>
<path d="M162.9,50.2 V45.9 H485.4 V50.2 M187.4,45.9 V50.2 M204,45.9 V50.2 M220.5,45.9 V50.2" stroke="#000" stroke-width="1.3" fill="none"/>
<text x="0.00" y="0.00" font-size="8.4" font-weight="bold" fill="#000" textLength="35.00" lengthAdjust="spacingAndGlyphs" transform="translate(173.6,43.0) rotate(-50)">Homo Del</text>
<text x="0.00" y="0.00" font-size="8.4" font-weight="bold" fill="#000" textLength="37.00" lengthAdjust="spacingAndGlyphs" transform="translate(193.9,43.0) rotate(-50)">Hetero Del</text>
<text x="0.00" y="0.00" font-size="8.4" font-weight="bold" fill="#000" textLength="53.00" lengthAdjust="spacingAndGlyphs" transform="translate(210.7,43.3) rotate(-50)">Truncating Mut</text>
<text x="313.30" y="40.10" font-size="8.7" font-weight="bold" fill="#000" textLength="53.50" lengthAdjust="spacingAndGlyphs" stroke="#000" stroke-width="0.2">Wild-Type LEF1</text>
<text x="144.00" y="53.30" font-size="17.2" font-weight="bold" fill="#000" textLength="10.60" lengthAdjust="spacingAndGlyphs" stroke="#000" stroke-width="0.4">B</text>
<path d="M506.3,58.8 H511.3 V166.3 H506.3" stroke="#000" stroke-width="1" fill="none"/>
<text x="0.00" y="0.00" font-size="7.5" font-weight="bold" fill="#000" textLength="55.00" lengthAdjust="spacingAndGlyphs" transform="translate(514.3,82.5) rotate(90)">Core Enrichment</text>
<rect x="453.80" y="23.5" width="4.69" height="4.70" fill="#2a10c8"/>
<rect x="458.44" y="23.5" width="4.69" height="4.70" fill="#3a22d0"/>
<rect x="463.08" y="23.5" width="4.69" height="4.70" fill="#6a5ae0"/>
<rect x="467.73" y="23.5" width="4.69" height="4.70" fill="#8c84ec"/>
<rect x="472.37" y="23.5" width="4.69" height="4.70" fill="#b8b4f4"/>
<rect x="477.01" y="23.5" width="4.69" height="4.70" fill="#e0dcfc"/>
<rect x="481.65" y="23.5" width="4.69" height="4.70" fill="#fadcec"/>
<rect x="486.29" y="23.5" width="4.69" height="4.70" fill="#f6b4bc"/>
<rect x="490.93" y="23.5" width="4.69" height="4.70" fill="#f28a90"/>
<rect x="495.57" y="23.5" width="4.69" height="4.70" fill="#ee6068"/>
<rect x="500.22" y="23.5" width="4.69" height="4.70" fill="#e83a40"/>
<rect x="504.86" y="23.5" width="4.69" height="4.70" fill="#e01018"/>
<rect x="453.8" y="23.5" width="55.70" height="4.70" fill="none" stroke="#444" stroke-width="0.4"/>
<text x="454.60" y="33.60" font-size="4.4" font-weight="bold" fill="#000" text-anchor="middle" >-3</text>
<text x="463.00" y="33.60" font-size="4.4" font-weight="bold" fill="#000" text-anchor="middle" >-2</text>
<text x="472.30" y="33.60" font-size="4.4" font-weight="bold" fill="#000" text-anchor="middle" >-1</text>
<text x="481.20" y="33.60" font-size="4.4" font-weight="bold" fill="#000" text-anchor="middle" >0</text>
<text x="490.80" y="33.60" font-size="4.4" font-weight="bold" fill="#000" text-anchor="middle" >1</text>
<text x="500.00" y="33.60" font-size="4.4" font-weight="bold" fill="#000" text-anchor="middle" >2</text>
<text x="508.50" y="33.60" font-size="4.4" font-weight="bold" fill="#000" text-anchor="middle" >3</text>
<text x="456.90" y="39.20" font-size="5.2" font-weight="bold" fill="#000" textLength="49.30" lengthAdjust="spacingAndGlyphs" >Normalized expression</text>
<text x="6.20" y="51.20" font-size="17.3" font-weight="bold" fill="#000" textLength="12.00" lengthAdjust="spacingAndGlyphs" stroke="#000" stroke-width="0.4">A</text>
<rect x="0" y="60.5" width="139.3" height="146" fill="#eeebdb"/>
<text x="6.30" y="70.90" font-size="8.9" font-weight="bold" fill="#111" textLength="126.00" lengthAdjust="spacingAndGlyphs" stroke="#111" stroke-width="0.25">FERRANDO HOX11/EARLY CORTICAL</text>
<rect x="15.4" y="73.6" width="121.6" height="109" fill="#fff" stroke="#d4d4d4" stroke-width="0.4"/>
<path d="M15.4,126.2 H136.2 M15.4,144.2 H136.2 M15.4,150.8 H136.2" stroke="#d0d0d0" stroke-width="0.5"/>
<polyline points="15.4,112 15.9,97 16.8,95 18.2,95 18.8,91.5 20.2,90.2 21.3,87.5 22.4,86.8 23.6,85.5 25.6,83.5 26.3,82 26.6,77.8 28.3,78.3 35.7,83.2 38.4,81.8 41,81.4 60,90.8 70,96.6 92.3,108.1 120,122.7 122.3,121.6 123.8,122.7 126.2,120.7 132.3,124.2" fill="none" stroke="#3ddc3d" stroke-width="1.1" stroke-linejoin="round"/>
<text x="132.30" y="88.90" font-size="6.9" font-weight="bold" fill="#111" textLength="38.50" lengthAdjust="spacingAndGlyphs" text-anchor="end" >NES = 1.79</text>
<text x="130" y="97.4" font-size="6.9" font-weight="bold" fill="#111" text-anchor="end" textLength="31.5" lengthAdjust="spacingAndGlyphs"><tspan font-style="italic">P</tspan> = 0.004</text>
<text x="13.40" y="81.10" font-size="3.5" font-weight="normal" fill="#707070" text-anchor="end" >0.7</text>
<text x="13.40" y="87.44" font-size="3.5" font-weight="normal" fill="#707070" text-anchor="end" >0.6</text>
<text x="13.40" y="93.78" font-size="3.5" font-weight="normal" fill="#707070" text-anchor="end" >0.5</text>
<text x="13.40" y="100.12" font-size="3.5" font-weight="normal" fill="#707070" text-anchor="end" >0.4</text>
<text x="13.40" y="106.46" font-size="3.5" font-weight="normal" fill="#707070" text-anchor="end" >0.3</text>
<text x="13.40" y="112.80" font-size="3.5" font-weight="normal" fill="#707070" text-anchor="end" >0.2</text>
<text x="13.40" y="119.14" font-size="3.5" font-weight="normal" fill="#707070" text-anchor="end" >0.1</text>
<text x="13.40" y="125.48" font-size="3.5" font-weight="normal" fill="#707070" text-anchor="end" >0.0</text>
<text transform="translate(6.6,116.5) rotate(-90)" font-size="3.3" fill="#808080" textLength="31.5" lengthAdjust="spacingAndGlyphs">Enrichment score (ES)</text>
<rect x="15.30" y="126.4" width="1.4" height="17.8" fill="#000"/>
<rect x="18.00" y="126.4" width="0.8" height="17.8" fill="#111"/>
<rect x="20.65" y="126.4" width="1.1" height="17.8" fill="#111"/>
<rect x="23.70" y="126.4" width="0.6" height="17.8" fill="#444"/>
<rect x="24.50" y="126.4" width="1.6" height="17.8" fill="#888"/>
<rect x="26.30" y="126.4" width="0.6" height="17.8" fill="#333"/>
<rect x="37.55" y="126.4" width="1.5" height="17.8" fill="#777"/>
<rect x="40.25" y="126.4" width="1.5" height="17.8" fill="#444"/>
<rect x="59.70" y="126.4" width="0.4" height="17.8" fill="#aaa"/>
<rect x="95.00" y="126.4" width="0.6" height="17.8" fill="#999"/>
<defs><linearGradient id="rg" x1="0" x2="1"><stop offset="0" stop-color="#e62a3a"/><stop offset="1" stop-color="#f26a82"/></linearGradient></defs>
<rect x="15.4" y="144.3" width="44.10" height="4.1" fill="url(#rg)"/>
<rect x="59.5" y="144.3" width="10.50" height="4.1" fill="#f2aad0"/>
<rect x="70" y="144.3" width="12.50" height="4.1" fill="#f0d0ec"/>
<rect x="82.5" y="144.3" width="12.50" height="4.1" fill="#d8d2f4"/>
<rect x="95" y="144.3" width="11.00" height="4.1" fill="#9090ea"/>
<rect x="106" y="144.3" width="16.50" height="4.1" fill="#5454e0"/>
<rect x="122.5" y="144.3" width="9.50" height="4.1" fill="#1414c0"/>
<text x="16.00" y="150.60" font-size="2.6" font-weight="normal" fill="#d03030" textLength="40.00" lengthAdjust="spacingAndGlyphs" >'LEF1-neg' (positively correlated)</text>
<path d="M15.4,157.2 C20,159.2 28,161 40,163 C55,164.5 65,165.5 72.5,165.7 C90,166.2 110,167.5 120,170 C127,172 131,175 131.6,180 L131.6,165.7 L15.4,165.7 Z" fill="#bdbdbd"/>
<path d="M15.4,165.7 H131.6" stroke="#999" stroke-width="0.3"/>
<path d="M72.5,151 V182.5" stroke="#ccc" stroke-width="0.3"/>
<text x="60.30" y="166.80" font-size="2.8" font-weight="normal" fill="#333" textLength="15.50" lengthAdjust="spacingAndGlyphs" >Zero cross at 2466</text>
<text x="77.00" y="180.60" font-size="2.7" font-weight="normal" fill="#3030c0" textLength="41.00" lengthAdjust="spacingAndGlyphs" >'WT' (negatively correlated)</text>
<path d="M15.4,182.5 H136.2" stroke="#bbb" stroke-width="0.4"/>
<text x="15.30" y="186.30" font-size="2.8" font-weight="normal" fill="#888" text-anchor="middle" >0</text>
<text x="29.25" y="186.30" font-size="2.8" font-weight="normal" fill="#888" text-anchor="middle" >2,500</text>
<text x="43.20" y="186.30" font-size="2.8" font-weight="normal" fill="#888" text-anchor="middle" >5,000</text>
<text x="57.15" y="186.30" font-size="2.8" font-weight="normal" fill="#888" text-anchor="middle" >7,500</text>
<text x="71.10" y="186.30" font-size="2.8" font-weight="normal" fill="#888" text-anchor="middle" >10,000</text>
<text x="85.05" y="186.30" font-size="2.8" font-weight="normal" fill="#888" text-anchor="middle" >12,500</text>
<text x="99.00" y="186.30" font-size="2.8" font-weight="normal" fill="#888" text-anchor="middle" >15,000</text>
<text x="112.95" y="186.30" font-size="2.8" font-weight="normal" fill="#888" text-anchor="middle" >17,500</text>
<text x="126.90" y="186.30" font-size="2.8" font-weight="normal" fill="#888" text-anchor="middle" >20,000</text>
<text x="13.50" y="152.80" font-size="3.0" font-weight="normal" fill="#999" text-anchor="end" >1.0</text>
<text x="13.50" y="159.90" font-size="3.0" font-weight="normal" fill="#999" text-anchor="end" >0.5</text>
<text x="13.50" y="167.00" font-size="3.0" font-weight="normal" fill="#999" text-anchor="end" >0.0</text>
<text x="13.50" y="174.10" font-size="3.0" font-weight="normal" fill="#999" text-anchor="end" >-0.5</text>
<text x="13.50" y="181.20" font-size="3.0" font-weight="normal" fill="#999" text-anchor="end" >-1.0</text>
<text x="57.20" y="190.80" font-size="3.0" font-weight="normal" fill="#777" textLength="29.50" lengthAdjust="spacingAndGlyphs" >Rank in Ordered Dataset</text>
<text transform="translate(5.2,190) rotate(-90)" font-size="2.9" fill="#999" textLength="49" lengthAdjust="spacingAndGlyphs">Ranked list metric (Signal2Noise)</text>
<text x="3.30" y="202.20" font-size="9.7" font-weight="bold" fill="#111" textLength="34.30" lengthAdjust="spacingAndGlyphs" >LEF1-neg</text>
<text x="125.00" y="202.20" font-size="9.7" font-weight="bold" fill="#111" textLength="11.60" lengthAdjust="spacingAndGlyphs" >WT</text>
<text x="9.10" y="252.30" font-size="18.6" font-weight="bold" fill="#000" textLength="10.80" lengthAdjust="spacingAndGlyphs" stroke="#000" stroke-width="0.4">C</text>
<text x="76.00" y="254.60" font-size="10.7" font-weight="normal" fill="#000" textLength="28.00" lengthAdjust="spacingAndGlyphs" stroke="#000" stroke-width="0.35">CD34</text>
<circle cx="53.75" cy="347.50" r="2.65" fill="#e5101a" stroke="#b00c14" stroke-width="0.35"/>
<circle cx="62.00" cy="347.50" r="2.65" fill="#e5101a" stroke="#b00c14" stroke-width="0.35"/>
<circle cx="70.00" cy="347.50" r="2.65" fill="#e5101a" stroke="#b00c14" stroke-width="0.35"/>
<circle cx="74.50" cy="347.50" r="2.65" fill="#e5101a" stroke="#b00c14" stroke-width="0.35"/>
<circle cx="78.75" cy="347.50" r="2.65" fill="#e5101a" stroke="#b00c14" stroke-width="0.35"/>
<circle cx="87.50" cy="347.50" r="2.65" fill="#e5101a" stroke="#b00c14" stroke-width="0.35"/>
<path d="M40.60,265.20 V347.90 H162.00" stroke="#000" stroke-width="1.8" fill="none" stroke-linecap="square"/>
<path d="M35.60,266.10 H40.60" stroke="#000" stroke-width="1.6"/>
<text x="34.80" y="269.10" font-size="8.6" font-weight="bold" fill="#000" textLength="10.95" lengthAdjust="spacingAndGlyphs" text-anchor="end" stroke="#000" stroke-width="0.15">100</text>
<path d="M35.60,286.55 H40.60" stroke="#000" stroke-width="1.6"/>
<text x="34.80" y="289.55" font-size="8.6" font-weight="bold" fill="#000" textLength="7.30" lengthAdjust="spacingAndGlyphs" text-anchor="end" stroke="#000" stroke-width="0.15">75</text>
<path d="M35.60,307.00 H40.60" stroke="#000" stroke-width="1.6"/>
<text x="34.80" y="310.00" font-size="8.6" font-weight="bold" fill="#000" textLength="7.30" lengthAdjust="spacingAndGlyphs" text-anchor="end" stroke="#000" stroke-width="0.15">50</text>
<path d="M35.60,327.45 H40.60" stroke="#000" stroke-width="1.6"/>
<text x="34.80" y="330.45" font-size="8.6" font-weight="bold" fill="#000" textLength="7.30" lengthAdjust="spacingAndGlyphs" text-anchor="end" stroke="#000" stroke-width="0.15">25</text>
<path d="M35.60,347.90 H40.60" stroke="#000" stroke-width="1.6"/>
<text x="34.80" y="350.90" font-size="8.6" font-weight="bold" fill="#000" textLength="3.65" lengthAdjust="spacingAndGlyphs" text-anchor="end" stroke="#000" stroke-width="0.15">0</text>
<path d="M70.50,347.90 V352.50" stroke="#000" stroke-width="1.6"/>
<path d="M130.90,347.90 V352.50" stroke="#000" stroke-width="1.6"/>
<text x="32.20" y="367.50" font-size="10.2" font-weight="bold" fill="#000" textLength="20.30" lengthAdjust="spacingAndGlyphs" >LEF1</text>
<text x="66.00" y="367.50" font-size="10.2" font-weight="bold" fill="#000" textLength="9.20" lengthAdjust="spacingAndGlyphs" >(-)</text>
<text x="125.40" y="367.50" font-size="10.2" font-weight="bold" fill="#000" textLength="15.40" lengthAdjust="spacingAndGlyphs" >WT</text>
<text transform="translate(18.00,339.30) rotate(-90)" font-size="10.8" font-weight="normal" stroke="#000" stroke-width="0.25" textLength="66.40" lengthAdjust="spacingAndGlyphs">% Expression</text>
<path d="M111.10,264.51 H117.10 L114.10,270.09 Z" fill="#1a12d6"/>
<path d="M119.50,269.21 H125.50 L122.50,274.79 Z" fill="#1a12d6"/>
<path d="M128.00,270.81 H134.00 L131.00,276.39 Z" fill="#1a12d6"/>
<path d="M136.80,269.21 H142.80 L139.80,274.79 Z" fill="#1a12d6"/>
<path d="M128.00,283.61 H134.00 L131.00,289.19 Z" fill="#1a12d6"/>
<path d="M119.20,294.21 H125.20 L122.20,299.79 Z" fill="#1a12d6"/>
<path d="M128.00,298.21 H134.00 L131.00,303.79 Z" fill="#1a12d6"/>
<path d="M119.20,314.11 H125.20 L122.20,319.69 Z" fill="#1a12d6"/>
<path d="M128.00,315.51 H134.00 L131.00,321.09 Z" fill="#1a12d6"/>
<path d="M136.70,315.51 H142.70 L139.70,321.09 Z" fill="#1a12d6"/>
<path d="M136.70,321.41 H142.70 L139.70,326.99 Z" fill="#1a12d6"/>
<path d="M119.20,325.71 H125.20 L122.20,331.29 Z" fill="#1a12d6"/>
<path d="M128.00,326.81 H134.00 L131.00,332.39 Z" fill="#1a12d6"/>
<path d="M111.40,344.41 H117.40 L114.40,349.99 Z" fill="#1a12d6"/>
<path d="M114.00,344.41 H120.00 L117.00,349.99 Z" fill="#1a12d6"/>
<path d="M116.60,344.41 H122.60 L119.60,349.99 Z" fill="#1a12d6"/>
<path d="M119.20,344.41 H125.20 L122.20,349.99 Z" fill="#1a12d6"/>
<path d="M121.80,344.41 H127.80 L124.80,349.99 Z" fill="#1a12d6"/>
<path d="M124.40,344.41 H130.40 L127.40,349.99 Z" fill="#1a12d6"/>
<path d="M127.00,344.41 H133.00 L130.00,349.99 Z" fill="#1a12d6"/>
<path d="M129.60,344.41 H135.60 L132.60,349.99 Z" fill="#1a12d6"/>
<path d="M132.20,344.41 H138.20 L135.20,349.99 Z" fill="#1a12d6"/>
<path d="M134.80,344.41 H140.80 L137.80,349.99 Z" fill="#1a12d6"/>
<path d="M137.40,344.41 H143.40 L140.40,349.99 Z" fill="#1a12d6"/>
<path d="M140.00,344.41 H146.00 L143.00,349.99 Z" fill="#1a12d6"/>
<path d="M142.60,344.41 H148.60 L145.60,349.99 Z" fill="#1a12d6"/>
<path d="M145.20,344.41 H151.20 L148.20,349.99 Z" fill="#1a12d6"/>
<text x="187.20" y="252.70" font-size="17.6" font-weight="bold" fill="#000" textLength="10.50" lengthAdjust="spacingAndGlyphs" stroke="#000" stroke-width="0.4">D</text>
<text x="254.30" y="255.40" font-size="11" font-weight="normal" fill="#000" textLength="22.90" lengthAdjust="spacingAndGlyphs" stroke="#000" stroke-width="0.35">CD8</text>
<circle cx="230.00" cy="270.20" r="2.65" fill="#e5101a" stroke="#b00c14" stroke-width="0.35"/>
<circle cx="238.80" cy="273.60" r="2.65" fill="#e5101a" stroke="#b00c14" stroke-width="0.35"/>
<circle cx="247.30" cy="275.90" r="2.65" fill="#e5101a" stroke="#b00c14" stroke-width="0.35"/>
<circle cx="251.70" cy="268.70" r="2.65" fill="#e5101a" stroke="#b00c14" stroke-width="0.35"/>
<circle cx="255.90" cy="273.40" r="2.65" fill="#e5101a" stroke="#b00c14" stroke-width="0.35"/>
<circle cx="265.20" cy="270.50" r="2.65" fill="#e5101a" stroke="#b00c14" stroke-width="0.35"/>
<path d="M216.80,266.90 V348.30 H339.30" stroke="#000" stroke-width="1.8" fill="none" stroke-linecap="square"/>
<path d="M211.80,267.80 H216.80" stroke="#000" stroke-width="1.6"/>
<text x="211.00" y="270.80" font-size="8.6" font-weight="bold" fill="#000" textLength="10.95" lengthAdjust="spacingAndGlyphs" text-anchor="end" stroke="#000" stroke-width="0.15">100</text>
<path d="M211.80,287.93 H216.80" stroke="#000" stroke-width="1.6"/>
<text x="211.00" y="290.93" font-size="8.6" font-weight="bold" fill="#000" textLength="7.30" lengthAdjust="spacingAndGlyphs" text-anchor="end" stroke="#000" stroke-width="0.15">75</text>
<path d="M211.80,308.05 H216.80" stroke="#000" stroke-width="1.6"/>
<text x="211.00" y="311.05" font-size="8.6" font-weight="bold" fill="#000" textLength="7.30" lengthAdjust="spacingAndGlyphs" text-anchor="end" stroke="#000" stroke-width="0.15">50</text>
<path d="M211.80,328.18 H216.80" stroke="#000" stroke-width="1.6"/>
<text x="211.00" y="331.18" font-size="8.6" font-weight="bold" fill="#000" textLength="7.30" lengthAdjust="spacingAndGlyphs" text-anchor="end" stroke="#000" stroke-width="0.15">25</text>
<path d="M211.80,348.30 H216.80" stroke="#000" stroke-width="1.6"/>
<text x="211.00" y="351.30" font-size="8.6" font-weight="bold" fill="#000" textLength="3.65" lengthAdjust="spacingAndGlyphs" text-anchor="end" stroke="#000" stroke-width="0.15">0</text>
<path d="M247.50,348.30 V352.90" stroke="#000" stroke-width="1.6"/>
<path d="M308.60,348.30 V352.90" stroke="#000" stroke-width="1.6"/>
<text x="209.80" y="367.70" font-size="10.2" font-weight="bold" fill="#000" textLength="20.40" lengthAdjust="spacingAndGlyphs" >LEF1</text>
<text x="243.80" y="367.70" font-size="10.2" font-weight="bold" fill="#000" textLength="9.10" lengthAdjust="spacingAndGlyphs" >(-)</text>
<text x="302.90" y="367.70" font-size="10.2" font-weight="bold" fill="#000" textLength="14.90" lengthAdjust="spacingAndGlyphs" >WT</text>
<text transform="translate(194.20,339.30) rotate(-90)" font-size="10.8" font-weight="normal" stroke="#000" stroke-width="0.25" textLength="64.90" lengthAdjust="spacingAndGlyphs">% Expression</text>
<path d="M288.00,265.71 H294.00 L291.00,271.29 Z" fill="#1a12d6"/>
<path d="M288.00,273.61 H294.00 L291.00,279.19 Z" fill="#1a12d6"/>
<path d="M296.40,266.41 H302.40 L299.40,271.99 Z" fill="#1a12d6"/>
<path d="M296.40,273.61 H302.40 L299.40,279.19 Z" fill="#1a12d6"/>
<path d="M300.80,264.51 H306.80 L303.80,270.09 Z" fill="#1a12d6"/>
<path d="M300.80,270.31 H306.80 L303.80,275.89 Z" fill="#1a12d6"/>
<path d="M305.10,269.81 H311.10 L308.10,275.39 Z" fill="#1a12d6"/>
<path d="M305.10,278.91 H311.10 L308.10,284.49 Z" fill="#1a12d6"/>
<path d="M309.40,265.51 H315.40 L312.40,271.09 Z" fill="#1a12d6"/>
<path d="M309.40,270.31 H315.40 L312.40,275.89 Z" fill="#1a12d6"/>
<path d="M313.70,268.31 H319.70 L316.70,273.89 Z" fill="#1a12d6"/>
<path d="M313.70,273.61 H319.70 L316.70,279.19 Z" fill="#1a12d6"/>
<path d="M318.00,264.51 H324.00 L321.00,270.09 Z" fill="#1a12d6"/>
<path d="M322.40,266.41 H328.40 L325.40,271.99 Z" fill="#1a12d6"/>
<path d="M322.40,271.21 H328.40 L325.40,276.79 Z" fill="#1a12d6"/>
<path d="M288.00,294.81 H294.00 L291.00,300.39 Z" fill="#1a12d6"/>
<path d="M296.40,295.51 H302.40 L299.40,301.09 Z" fill="#1a12d6"/>
<path d="M305.10,292.41 H311.10 L308.10,297.99 Z" fill="#1a12d6"/>
<path d="M314.20,289.01 H320.20 L317.20,294.59 Z" fill="#1a12d6"/>
<path d="M314.20,294.81 H320.20 L317.20,300.39 Z" fill="#1a12d6"/>
<path d="M305.20,303.51 H311.20 L308.20,309.09 Z" fill="#1a12d6"/>
<path d="M296.80,313.01 H302.80 L299.80,318.59 Z" fill="#1a12d6"/>
<path d="M305.20,316.71 H311.20 L308.20,322.29 Z" fill="#1a12d6"/>
<path d="M313.90,314.61 H319.90 L316.90,320.19 Z" fill="#1a12d6"/>
<path d="M296.80,327.31 H302.80 L299.80,332.89 Z" fill="#1a12d6"/>
<path d="M305.20,328.31 H311.20 L308.20,333.89 Z" fill="#1a12d6"/>
<path d="M287.80,344.51 H293.80 L290.80,350.09 Z" fill="#1a12d6"/>
<path d="M295.70,344.51 H301.70 L298.70,350.09 Z" fill="#1a12d6"/>
<path d="M298.40,344.51 H304.40 L301.40,350.09 Z" fill="#1a12d6"/>
<path d="M304.70,344.51 H310.70 L307.70,350.09 Z" fill="#1a12d6"/>
<path d="M307.30,344.51 H313.30 L310.30,350.09 Z" fill="#1a12d6"/>
<path d="M310.00,344.51 H316.00 L313.00,350.09 Z" fill="#1a12d6"/>
<path d="M312.60,344.51 H318.60 L315.60,350.09 Z" fill="#1a12d6"/>
<path d="M322.60,344.51 H328.60 L325.60,350.09 Z" fill="#1a12d6"/>
<path d="M301.00,340.81 H307.00 L304.00,346.39 Z" fill="#1a12d6"/>
<path d="M318.40,340.41 H324.40 L321.40,345.99 Z" fill="#1a12d6"/>
<text x="360.30" y="254.60" font-size="17.8" font-weight="bold" fill="#000" textLength="9.40" lengthAdjust="spacingAndGlyphs" stroke="#000" stroke-width="0.4">E</text>
<text x="426.30" y="254.60" font-size="10.6" font-weight="normal" fill="#000" textLength="29.40" lengthAdjust="spacingAndGlyphs" stroke="#000" stroke-width="0.35">CD1A</text>
<circle cx="412.20" cy="292.30" r="2.65" fill="#e5101a" stroke="#b00c14" stroke-width="0.35"/>
<circle cx="421.40" cy="295.70" r="2.65" fill="#e5101a" stroke="#b00c14" stroke-width="0.35"/>
<circle cx="429.90" cy="294.10" r="2.65" fill="#e5101a" stroke="#b00c14" stroke-width="0.35"/>
<circle cx="421.40" cy="327.70" r="2.65" fill="#e5101a" stroke="#b00c14" stroke-width="0.35"/>
<circle cx="421.40" cy="347.10" r="2.65" fill="#e5101a" stroke="#b00c14" stroke-width="0.35"/>
<circle cx="429.90" cy="347.10" r="2.65" fill="#e5101a" stroke="#b00c14" stroke-width="0.35"/>
<path d="M391.00,265.20 V348.00 H512.90" stroke="#000" stroke-width="1.8" fill="none" stroke-linecap="square"/>
<path d="M386.00,266.10 H391.00" stroke="#000" stroke-width="1.6"/>
<text x="385.20" y="269.10" font-size="8.6" font-weight="bold" fill="#000" textLength="10.95" lengthAdjust="spacingAndGlyphs" text-anchor="end" stroke="#000" stroke-width="0.15">100</text>
<path d="M386.00,286.58 H391.00" stroke="#000" stroke-width="1.6"/>
<text x="385.20" y="289.58" font-size="8.6" font-weight="bold" fill="#000" textLength="7.30" lengthAdjust="spacingAndGlyphs" text-anchor="end" stroke="#000" stroke-width="0.15">75</text>
<path d="M386.00,307.05 H391.00" stroke="#000" stroke-width="1.6"/>
<text x="385.20" y="310.05" font-size="8.6" font-weight="bold" fill="#000" textLength="7.30" lengthAdjust="spacingAndGlyphs" text-anchor="end" stroke="#000" stroke-width="0.15">50</text>
<path d="M386.00,327.52 H391.00" stroke="#000" stroke-width="1.6"/>
<text x="385.20" y="330.52" font-size="8.6" font-weight="bold" fill="#000" textLength="7.30" lengthAdjust="spacingAndGlyphs" text-anchor="end" stroke="#000" stroke-width="0.15">25</text>
<path d="M386.00,348.00 H391.00" stroke="#000" stroke-width="1.6"/>
<text x="385.20" y="351.00" font-size="8.6" font-weight="bold" fill="#000" textLength="3.65" lengthAdjust="spacingAndGlyphs" text-anchor="end" stroke="#000" stroke-width="0.15">0</text>
<path d="M421.30,348.00 V352.60" stroke="#000" stroke-width="1.6"/>
<path d="M482.20,348.00 V352.60" stroke="#000" stroke-width="1.6"/>
<text x="382.50" y="367.70" font-size="10.2" font-weight="bold" fill="#000" textLength="20.00" lengthAdjust="spacingAndGlyphs" >LEF1</text>
<text x="416.70" y="367.70" font-size="10.2" font-weight="bold" fill="#000" textLength="9.50" lengthAdjust="spacingAndGlyphs" >(-)</text>
<text x="476.80" y="367.70" font-size="10.2" font-weight="bold" fill="#000" textLength="14.80" lengthAdjust="spacingAndGlyphs" >WT</text>
<text transform="translate(368.40,338.20) rotate(-90)" font-size="10.8" font-weight="normal" stroke="#000" stroke-width="0.25" textLength="65.40" lengthAdjust="spacingAndGlyphs">% Expression</text>
<path d="M470.30,264.91 H476.30 L473.30,270.49 Z" fill="#1a12d6"/>
<path d="M479.10,264.91 H485.10 L482.10,270.49 Z" fill="#1a12d6"/>
<path d="M479.10,275.41 H485.10 L482.10,280.99 Z" fill="#1a12d6"/>
<path d="M470.30,290.61 H476.30 L473.30,296.19 Z" fill="#1a12d6"/>
<path d="M479.10,294.21 H485.10 L482.10,299.79 Z" fill="#1a12d6"/>
<path d="M487.50,290.01 H493.50 L490.50,295.59 Z" fill="#1a12d6"/>
<path d="M470.30,315.51 H476.30 L473.30,321.09 Z" fill="#1a12d6"/>
<path d="M479.10,320.11 H485.10 L482.10,325.69 Z" fill="#1a12d6"/>
<path d="M474.30,323.21 H480.30 L477.30,328.79 Z" fill="#1a12d6"/>
<path d="M487.50,319.51 H493.50 L490.50,325.09 Z" fill="#1a12d6"/>
<path d="M496.20,314.11 H502.20 L499.20,319.69 Z" fill="#1a12d6"/>
<path d="M461.60,326.11 H467.60 L464.60,331.69 Z" fill="#1a12d6"/>
<path d="M470.30,329.71 H476.30 L473.30,335.29 Z" fill="#1a12d6"/>
<path d="M479.10,331.01 H485.10 L482.10,336.59 Z" fill="#1a12d6"/>
<path d="M487.50,328.31 H493.50 L490.50,333.89 Z" fill="#1a12d6"/>
<path d="M496.20,325.01 H502.20 L499.20,330.59 Z" fill="#1a12d6"/>
<path d="M488.90,340.11 H494.90 L491.90,345.69 Z" fill="#1a12d6"/>
<path d="M462.00,344.51 H468.00 L465.00,350.09 Z" fill="#1a12d6"/>
<path d="M464.65,344.51 H470.65 L467.65,350.09 Z" fill="#1a12d6"/>
<path d="M467.31,344.51 H473.31 L470.31,350.09 Z" fill="#1a12d6"/>
<path d="M469.96,344.51 H475.96 L472.96,350.09 Z" fill="#1a12d6"/>
<path d="M472.62,344.51 H478.62 L475.62,350.09 Z" fill="#1a12d6"/>
<path d="M475.27,344.51 H481.27 L478.27,350.09 Z" fill="#1a12d6"/>
<path d="M477.92,344.51 H483.92 L480.92,350.09 Z" fill="#1a12d6"/>
<path d="M480.58,344.51 H486.58 L483.58,350.09 Z" fill="#1a12d6"/>
<path d="M483.23,344.51 H489.23 L486.23,350.09 Z" fill="#1a12d6"/>
<path d="M485.88,344.51 H491.88 L488.88,350.09 Z" fill="#1a12d6"/>
<path d="M488.54,344.51 H494.54 L491.54,350.09 Z" fill="#1a12d6"/>
<path d="M491.19,344.51 H497.19 L494.19,350.09 Z" fill="#1a12d6"/>
<path d="M493.85,344.51 H499.85 L496.85,350.09 Z" fill="#1a12d6"/>
<path d="M496.50,344.51 H502.50 L499.50,350.09 Z" fill="#1a12d6"/>
<text x="16.90" y="408.00" font-size="18.0" font-weight="bold" fill="#000" textLength="8.40" lengthAdjust="spacingAndGlyphs" stroke="#000" stroke-width="0.4">F</text>
<text x="81.70" y="407.10" font-size="10.7" font-weight="normal" fill="#000" textLength="22.10" lengthAdjust="spacingAndGlyphs" stroke="#000" stroke-width="0.35">CD4</text>
<circle cx="69.60" cy="422.70" r="2.65" fill="#e5101a" stroke="#b00c14" stroke-width="0.35"/>
<circle cx="78.40" cy="422.30" r="2.65" fill="#e5101a" stroke="#b00c14" stroke-width="0.35"/>
<circle cx="69.60" cy="443.60" r="2.65" fill="#e5101a" stroke="#b00c14" stroke-width="0.35"/>
<circle cx="60.80" cy="499.70" r="2.65" fill="#e5101a" stroke="#b00c14" stroke-width="0.35"/>
<circle cx="69.60" cy="499.70" r="2.65" fill="#e5101a" stroke="#b00c14" stroke-width="0.35"/>
<circle cx="78.40" cy="499.70" r="2.65" fill="#e5101a" stroke="#b00c14" stroke-width="0.35"/>
<path d="M39.30,418.60 V500.20 H161.80" stroke="#000" stroke-width="1.8" fill="none" stroke-linecap="square"/>
<path d="M34.30,419.50 H39.30" stroke="#000" stroke-width="1.6"/>
<text x="33.50" y="422.50" font-size="8.6" font-weight="bold" fill="#000" textLength="10.95" lengthAdjust="spacingAndGlyphs" text-anchor="end" stroke="#000" stroke-width="0.15">100</text>
<path d="M34.30,439.68 H39.30" stroke="#000" stroke-width="1.6"/>
<text x="33.50" y="442.68" font-size="8.6" font-weight="bold" fill="#000" textLength="7.30" lengthAdjust="spacingAndGlyphs" text-anchor="end" stroke="#000" stroke-width="0.15">75</text>
<path d="M34.30,459.85 H39.30" stroke="#000" stroke-width="1.6"/>
<text x="33.50" y="462.85" font-size="8.6" font-weight="bold" fill="#000" textLength="7.30" lengthAdjust="spacingAndGlyphs" text-anchor="end" stroke="#000" stroke-width="0.15">50</text>
<path d="M34.30,480.02 H39.30" stroke="#000" stroke-width="1.6"/>
<text x="33.50" y="483.02" font-size="8.6" font-weight="bold" fill="#000" textLength="7.30" lengthAdjust="spacingAndGlyphs" text-anchor="end" stroke="#000" stroke-width="0.15">25</text>
<path d="M34.30,500.20 H39.30" stroke="#000" stroke-width="1.6"/>
<text x="33.50" y="503.20" font-size="8.6" font-weight="bold" fill="#000" textLength="3.65" lengthAdjust="spacingAndGlyphs" text-anchor="end" stroke="#000" stroke-width="0.15">0</text>
<path d="M69.80,500.20 V504.80" stroke="#000" stroke-width="1.6"/>
<path d="M130.90,500.20 V504.80" stroke="#000" stroke-width="1.6"/>
<text x="32.10" y="519.60" font-size="10.2" font-weight="bold" fill="#000" textLength="20.20" lengthAdjust="spacingAndGlyphs" >LEF1</text>
<text x="65.80" y="519.60" font-size="10.2" font-weight="bold" fill="#000" textLength="9.40" lengthAdjust="spacingAndGlyphs" >(-)</text>
<text x="125.00" y="519.60" font-size="10.2" font-weight="bold" fill="#000" textLength="14.80" lengthAdjust="spacingAndGlyphs" >WT</text>
<text transform="translate(17.50,491.90) rotate(-90)" font-size="10.8" font-weight="normal" stroke="#000" stroke-width="0.25" textLength="65.40" lengthAdjust="spacingAndGlyphs">% Expression</text>
<path d="M127.70,422.21 H133.70 L130.70,427.79 Z" fill="#1a12d6"/>
<path d="M110.00,428.31 H116.00 L113.00,433.89 Z" fill="#1a12d6"/>
<path d="M136.30,430.61 H142.30 L139.30,436.19 Z" fill="#1a12d6"/>
<path d="M119.00,435.61 H125.00 L122.00,441.19 Z" fill="#1a12d6"/>
<path d="M127.70,436.41 H133.70 L130.70,441.99 Z" fill="#1a12d6"/>
<path d="M127.70,447.11 H133.70 L130.70,452.69 Z" fill="#1a12d6"/>
<path d="M110.00,458.01 H116.00 L113.00,463.59 Z" fill="#1a12d6"/>
<path d="M119.00,461.91 H125.00 L122.00,467.49 Z" fill="#1a12d6"/>
<path d="M127.70,463.81 H133.70 L130.70,469.39 Z" fill="#1a12d6"/>
<path d="M136.30,461.51 H142.30 L139.30,467.09 Z" fill="#1a12d6"/>
<path d="M136.30,468.61 H142.30 L139.30,474.19 Z" fill="#1a12d6"/>
<path d="M127.70,472.41 H133.70 L130.70,477.99 Z" fill="#1a12d6"/>
<path d="M145.00,474.71 H151.00 L148.00,480.29 Z" fill="#1a12d6"/>
<path d="M110.00,478.51 H116.00 L113.00,484.09 Z" fill="#1a12d6"/>
<path d="M119.00,483.01 H125.00 L122.00,488.59 Z" fill="#1a12d6"/>
<path d="M127.70,483.51 H133.70 L130.70,489.09 Z" fill="#1a12d6"/>
<path d="M136.30,482.01 H142.30 L139.30,487.59 Z" fill="#1a12d6"/>
<path d="M117.70,488.71 H123.70 L120.70,494.29 Z" fill="#1a12d6"/>
<path d="M110.50,496.71 H116.50 L113.50,502.29 Z" fill="#1a12d6"/>
<path d="M113.15,496.71 H119.15 L116.15,502.29 Z" fill="#1a12d6"/>
<path d="M115.81,496.71 H121.81 L118.81,502.29 Z" fill="#1a12d6"/>
<path d="M118.46,496.71 H124.46 L121.46,502.29 Z" fill="#1a12d6"/>
<path d="M121.12,496.71 H127.12 L124.12,502.29 Z" fill="#1a12d6"/>
<path d="M123.77,496.71 H129.77 L126.77,502.29 Z" fill="#1a12d6"/>
<path d="M126.42,496.71 H132.42 L129.42,502.29 Z" fill="#1a12d6"/>
<path d="M129.08,496.71 H135.08 L132.08,502.29 Z" fill="#1a12d6"/>
<path d="M131.73,496.71 H137.73 L134.73,502.29 Z" fill="#1a12d6"/>
<path d="M134.38,496.71 H140.38 L137.38,502.29 Z" fill="#1a12d6"/>
<path d="M137.04,496.71 H143.04 L140.04,502.29 Z" fill="#1a12d6"/>
<path d="M139.69,496.71 H145.69 L142.69,502.29 Z" fill="#1a12d6"/>
<path d="M142.35,496.71 H148.35 L145.35,502.29 Z" fill="#1a12d6"/>
<path d="M145.00,496.71 H151.00 L148.00,502.29 Z" fill="#1a12d6"/>
<text x="187.50" y="408.10" font-size="18.4" font-weight="bold" fill="#000" textLength="11.40" lengthAdjust="spacingAndGlyphs" stroke="#000" stroke-width="0.4">G</text>
<text x="239.70" y="406.80" font-size="10.8" font-weight="normal" fill="#000" textLength="62.40" lengthAdjust="spacingAndGlyphs" stroke="#000" stroke-width="0.35">surface CD3</text>
<circle cx="245.20" cy="426.00" r="2.65" fill="#e5101a" stroke="#b00c14" stroke-width="0.35"/>
<circle cx="245.20" cy="438.30" r="2.65" fill="#e5101a" stroke="#b00c14" stroke-width="0.35"/>
<circle cx="245.20" cy="464.90" r="2.65" fill="#e5101a" stroke="#b00c14" stroke-width="0.35"/>
<circle cx="245.20" cy="474.20" r="2.65" fill="#e5101a" stroke="#b00c14" stroke-width="0.35"/>
<circle cx="245.20" cy="492.30" r="2.65" fill="#e5101a" stroke="#b00c14" stroke-width="0.35"/>
<circle cx="254.00" cy="489.10" r="2.65" fill="#e5101a" stroke="#b00c14" stroke-width="0.35"/>
<path d="M214.60,418.60 V500.20 H337.30" stroke="#000" stroke-width="1.8" fill="none" stroke-linecap="square"/>
<path d="M209.60,419.50 H214.60" stroke="#000" stroke-width="1.6"/>
<text x="208.80" y="422.50" font-size="8.6" font-weight="bold" fill="#000" textLength="10.95" lengthAdjust="spacingAndGlyphs" text-anchor="end" stroke="#000" stroke-width="0.15">100</text>
<path d="M209.60,439.68 H214.60" stroke="#000" stroke-width="1.6"/>
<text x="208.80" y="442.68" font-size="8.6" font-weight="bold" fill="#000" textLength="7.30" lengthAdjust="spacingAndGlyphs" text-anchor="end" stroke="#000" stroke-width="0.15">75</text>
<path d="M209.60,459.85 H214.60" stroke="#000" stroke-width="1.6"/>
<text x="208.80" y="462.85" font-size="8.6" font-weight="bold" fill="#000" textLength="7.30" lengthAdjust="spacingAndGlyphs" text-anchor="end" stroke="#000" stroke-width="0.15">50</text>
<path d="M209.60,480.02 H214.60" stroke="#000" stroke-width="1.6"/>
<text x="208.80" y="483.02" font-size="8.6" font-weight="bold" fill="#000" textLength="7.30" lengthAdjust="spacingAndGlyphs" text-anchor="end" stroke="#000" stroke-width="0.15">25</text>
<path d="M209.60,500.20 H214.60" stroke="#000" stroke-width="1.6"/>
<text x="208.80" y="503.20" font-size="8.6" font-weight="bold" fill="#000" textLength="3.65" lengthAdjust="spacingAndGlyphs" text-anchor="end" stroke="#000" stroke-width="0.15">0</text>
<path d="M245.60,500.20 V504.80" stroke="#000" stroke-width="1.6"/>
<path d="M305.90,500.20 V504.80" stroke="#000" stroke-width="1.6"/>
<text x="207.90" y="519.60" font-size="10.2" font-weight="bold" fill="#000" textLength="19.90" lengthAdjust="spacingAndGlyphs" >LEF1</text>
<text x="241.30" y="519.60" font-size="10.2" font-weight="bold" fill="#000" textLength="9.70" lengthAdjust="spacingAndGlyphs" >(-)</text>
<text x="300.50" y="519.60" font-size="10.2" font-weight="bold" fill="#000" textLength="15.10" lengthAdjust="spacingAndGlyphs" >WT</text>
<text transform="translate(193.50,492.70) rotate(-90)" font-size="10.8" font-weight="normal" stroke="#000" stroke-width="0.25" textLength="66.90" lengthAdjust="spacingAndGlyphs">% Expression</text>
<path d="M290.20,417.21 H296.20 L293.20,422.79 Z" fill="#1a12d6"/>
<path d="M293.10,417.71 H299.10 L296.10,423.29 Z" fill="#1a12d6"/>
<path d="M298.90,416.71 H304.90 L301.90,422.29 Z" fill="#1a12d6"/>
<path d="M301.70,417.21 H307.70 L304.70,422.79 Z" fill="#1a12d6"/>
<path d="M304.60,416.71 H310.60 L307.60,422.29 Z" fill="#1a12d6"/>
<path d="M306.50,417.71 H312.50 L309.50,423.29 Z" fill="#1a12d6"/>
<path d="M313.20,416.71 H319.20 L316.20,422.29 Z" fill="#1a12d6"/>
<path d="M316.10,417.71 H322.10 L319.10,423.29 Z" fill="#1a12d6"/>
<path d="M285.80,422.21 H291.80 L288.80,427.79 Z" fill="#1a12d6"/>
<path d="M294.60,424.81 H300.60 L297.60,430.39 Z" fill="#1a12d6"/>
<path d="M298.90,420.21 H304.90 L301.90,425.79 Z" fill="#1a12d6"/>
<path d="M303.30,424.81 H309.30 L306.30,430.39 Z" fill="#1a12d6"/>
<path d="M307.50,420.21 H313.50 L310.50,425.79 Z" fill="#1a12d6"/>
<path d="M311.90,424.81 H317.90 L314.90,430.39 Z" fill="#1a12d6"/>
<path d="M316.10,420.21 H322.10 L319.10,425.79 Z" fill="#1a12d6"/>
<path d="M320.90,421.01 H326.90 L323.90,426.59 Z" fill="#1a12d6"/>
<path d="M294.60,433.11 H300.60 L297.60,438.69 Z" fill="#1a12d6"/>
<path d="M303.30,440.81 H309.30 L306.30,446.39 Z" fill="#1a12d6"/>
<path d="M311.90,436.41 H317.90 L314.90,441.99 Z" fill="#1a12d6"/>
<path d="M294.60,457.11 H300.60 L297.60,462.69 Z" fill="#1a12d6"/>
<path d="M303.30,458.01 H309.30 L306.30,463.59 Z" fill="#1a12d6"/>
<path d="M311.90,454.21 H317.90 L314.90,459.79 Z" fill="#1a12d6"/>
<path d="M294.60,464.41 H300.60 L297.60,469.99 Z" fill="#1a12d6"/>
<path d="M303.30,467.61 H309.30 L306.30,473.19 Z" fill="#1a12d6"/>
<path d="M311.90,465.11 H317.90 L314.90,470.69 Z" fill="#1a12d6"/>
<path d="M285.80,475.91 H291.80 L288.80,481.49 Z" fill="#1a12d6"/>
<path d="M294.60,479.71 H300.60 L297.60,485.29 Z" fill="#1a12d6"/>
<path d="M303.30,481.61 H309.30 L306.30,487.19 Z" fill="#1a12d6"/>
<path d="M311.90,478.51 H317.90 L314.90,484.09 Z" fill="#1a12d6"/>
<path d="M298.90,488.71 H304.90 L301.90,494.29 Z" fill="#1a12d6"/>
<path d="M307.50,491.21 H313.50 L310.50,496.79 Z" fill="#1a12d6"/>
<path d="M285.80,496.61 H291.80 L288.80,502.19 Z" fill="#1a12d6"/>
<path d="M294.60,496.61 H300.60 L297.60,502.19 Z" fill="#1a12d6"/>
<path d="M303.30,496.61 H309.30 L306.30,502.19 Z" fill="#1a12d6"/>
<path d="M311.90,496.61 H317.90 L314.90,502.19 Z" fill="#1a12d6"/>
<path d="M320.90,496.61 H326.90 L323.90,502.19 Z" fill="#1a12d6"/>
<text x="361.50" y="405.80" font-size="17.8" font-weight="bold" fill="#000" textLength="10.40" lengthAdjust="spacingAndGlyphs" stroke="#000" stroke-width="0.4">H</text>
<text x="432.90" y="407.00" font-size="11" font-weight="normal" fill="#000" textLength="21.70" lengthAdjust="spacingAndGlyphs" stroke="#000" stroke-width="0.35">CD7</text>
<circle cx="403.40" cy="419.70" r="2.65" fill="#e5101a" stroke="#b00c14" stroke-width="0.35"/>
<circle cx="411.70" cy="420.60" r="2.65" fill="#e5101a" stroke="#b00c14" stroke-width="0.35"/>
<circle cx="420.50" cy="423.70" r="2.65" fill="#e5101a" stroke="#b00c14" stroke-width="0.35"/>
<circle cx="429.30" cy="420.90" r="2.65" fill="#e5101a" stroke="#b00c14" stroke-width="0.35"/>
<circle cx="437.70" cy="420.00" r="2.65" fill="#e5101a" stroke="#b00c14" stroke-width="0.35"/>
<circle cx="420.50" cy="444.80" r="2.65" fill="#e5101a" stroke="#b00c14" stroke-width="0.35"/>
<path d="M390.00,418.20 V499.70 H512.90" stroke="#000" stroke-width="1.8" fill="none" stroke-linecap="square"/>
<path d="M385.00,419.10 H390.00" stroke="#000" stroke-width="1.6"/>
<text x="384.20" y="422.10" font-size="8.6" font-weight="bold" fill="#000" textLength="10.95" lengthAdjust="spacingAndGlyphs" text-anchor="end" stroke="#000" stroke-width="0.15">100</text>
<path d="M385.00,439.25 H390.00" stroke="#000" stroke-width="1.6"/>
<text x="384.20" y="442.25" font-size="8.6" font-weight="bold" fill="#000" textLength="7.30" lengthAdjust="spacingAndGlyphs" text-anchor="end" stroke="#000" stroke-width="0.15">75</text>
<path d="M385.00,459.40 H390.00" stroke="#000" stroke-width="1.6"/>
<text x="384.20" y="462.40" font-size="8.6" font-weight="bold" fill="#000" textLength="7.30" lengthAdjust="spacingAndGlyphs" text-anchor="end" stroke="#000" stroke-width="0.15">50</text>
<path d="M385.00,479.55 H390.00" stroke="#000" stroke-width="1.6"/>
<text x="384.20" y="482.55" font-size="8.6" font-weight="bold" fill="#000" textLength="7.30" lengthAdjust="spacingAndGlyphs" text-anchor="end" stroke="#000" stroke-width="0.15">25</text>
<path d="M385.00,499.70 H390.00" stroke="#000" stroke-width="1.6"/>
<text x="384.20" y="502.70" font-size="8.6" font-weight="bold" fill="#000" textLength="3.65" lengthAdjust="spacingAndGlyphs" text-anchor="end" stroke="#000" stroke-width="0.15">0</text>
<path d="M420.80,499.70 V504.30" stroke="#000" stroke-width="1.6"/>
<path d="M481.90,499.70 V504.30" stroke="#000" stroke-width="1.6"/>
<text x="382.50" y="519.60" font-size="10.2" font-weight="bold" fill="#000" textLength="20.20" lengthAdjust="spacingAndGlyphs" >LEF1</text>
<text x="416.70" y="519.60" font-size="10.2" font-weight="bold" fill="#000" textLength="9.50" lengthAdjust="spacingAndGlyphs" >(-)</text>
<text x="476.00" y="519.60" font-size="10.2" font-weight="bold" fill="#000" textLength="14.80" lengthAdjust="spacingAndGlyphs" >WT</text>
<text transform="translate(368.20,490.60) rotate(-90)" font-size="10.8" font-weight="normal" stroke="#000" stroke-width="0.25" textLength="65.40" lengthAdjust="spacingAndGlyphs">% Expression</text>
<path d="M470.00,416.81 H476.00 L473.00,422.39 Z" fill="#1a12d6"/>
<path d="M473.50,416.81 H479.50 L476.50,422.39 Z" fill="#1a12d6"/>
<path d="M477.00,416.81 H483.00 L480.00,422.39 Z" fill="#1a12d6"/>
<path d="M480.50,416.81 H486.50 L483.50,422.39 Z" fill="#1a12d6"/>
<path d="M484.00,416.81 H490.00 L487.00,422.39 Z" fill="#1a12d6"/>
<path d="M487.50,416.81 H493.50 L490.50,422.39 Z" fill="#1a12d6"/>
<path d="M461.00,420.11 H467.00 L464.00,425.69 Z" fill="#1a12d6"/>
<path d="M465.20,420.71 H471.20 L468.20,426.29 Z" fill="#1a12d6"/>
<path d="M469.50,422.31 H475.50 L472.50,427.89 Z" fill="#1a12d6"/>
<path d="M474.20,420.71 H480.20 L477.20,426.29 Z" fill="#1a12d6"/>
<path d="M478.50,424.41 H484.50 L481.50,429.99 Z" fill="#1a12d6"/>
<path d="M482.70,421.21 H488.70 L485.70,426.79 Z" fill="#1a12d6"/>
<path d="M486.90,422.81 H492.90 L489.90,428.39 Z" fill="#1a12d6"/>
<path d="M491.70,420.71 H497.70 L494.70,426.29 Z" fill="#1a12d6"/>
<path d="M496.40,420.71 H502.40 L499.40,426.29 Z" fill="#1a12d6"/>
<path d="M467.00,418.21 H473.00 L470.00,423.79 Z" fill="#1a12d6"/>
<path d="M472.00,419.21 H478.00 L475.00,424.79 Z" fill="#1a12d6"/>
<path d="M477.00,419.21 H483.00 L480.00,424.79 Z" fill="#1a12d6"/>
<path d="M482.00,418.71 H488.00 L485.00,424.29 Z" fill="#1a12d6"/>
<path d="M487.00,418.71 H493.00 L490.00,424.29 Z" fill="#1a12d6"/>
<path d="M491.00,418.21 H497.00 L494.00,423.79 Z" fill="#1a12d6"/>
<path d="M463.00,418.71 H469.00 L466.00,424.29 Z" fill="#1a12d6"/>
<path d="M494.00,418.71 H500.00 L497.00,424.29 Z" fill="#1a12d6"/>
<path d="M487.60,431.81 H493.60 L490.60,437.39 Z" fill="#1a12d6"/>
<path d="M478.80,436.41 H484.80 L481.80,441.99 Z" fill="#1a12d6"/>
</svg>
</body></html>
